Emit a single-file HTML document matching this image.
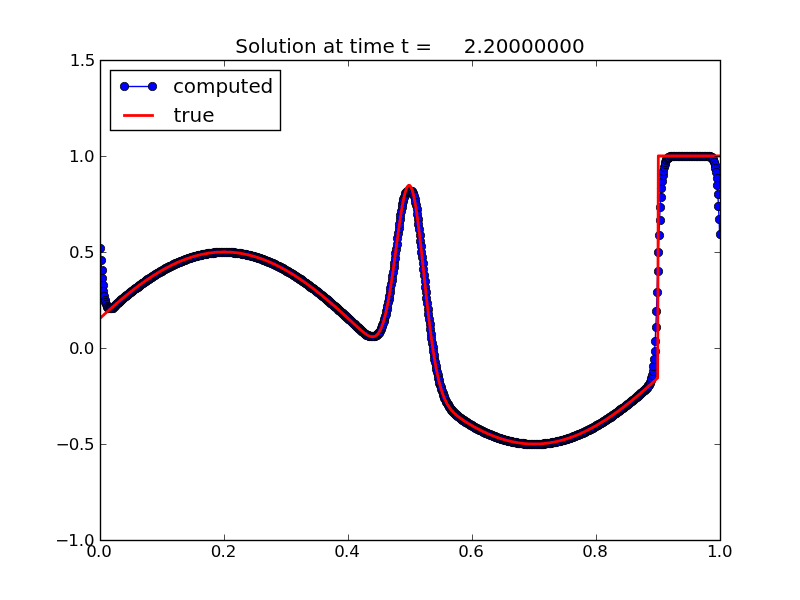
<!DOCTYPE html>
<html><head><meta charset="utf-8"><title>Solution at time t = 2.20000000</title>
<style>html,body{margin:0;padding:0;background:#fff;overflow:hidden}svg{display:block;will-change:transform}</style></head>
<body>
<svg width="800" height="600" viewBox="0 0 800 600">
<rect x="0" y="0" width="800" height="600" fill="#fff"/>
<defs><clipPath id="ax"><rect x="100" y="60" width="620" height="480"/></clipPath></defs>
<g clip-path="url(#ax)">
<path d="M100.31 247.81 L100.93 259.61 L101.55 269.76 L102.17 278.34 L102.79 285.46 L103.41 291.26 L104.03 295.89 L104.65 299.53 L105.27 302.31 L105.89 304.39 L106.51 305.90 L107.13 306.95 L107.75 307.65 L108.37 308.08 L108.99 308.31 L109.61 308.42 L110.23 308.45 L110.85 308.43 L111.47 308.35 L112.09 308.12 L112.71 307.72 L113.33 307.13 L113.95 306.38 L114.57 305.62 L115.19 304.95 L115.81 304.32 L116.43 303.72 L117.05 303.15 L117.67 302.59 L118.29 302.04 L118.91 301.50 L119.53 300.97 L120.15 300.44 L120.77 299.92 L121.39 299.39 L122.01 298.87 L122.63 298.35 L123.25 297.84 L123.87 297.33 L124.49 296.81 L125.11 296.30 L125.73 295.80 L126.35 295.29 L126.97 294.79 L127.59 294.29 L128.21 293.79 L128.83 293.29 L129.45 292.80 L130.07 292.31 L130.69 291.82 L131.31 291.33 L131.93 290.84 L132.55 290.36 L133.17 289.88 L133.79 289.40 L134.41 288.92 L135.03 288.45 L135.65 287.98 L136.27 287.51 L136.89 287.04 L137.51 286.57 L138.13 286.11 L138.75 285.65 L139.37 285.19 L139.99 284.74 L140.61 284.29 L141.23 283.84 L141.85 283.39 L142.47 282.94 L143.09 282.50 L143.71 282.06 L144.33 281.63 L144.95 281.19 L145.57 280.76 L146.19 280.33 L146.81 279.90 L147.43 279.48 L148.05 279.06 L148.67 278.64 L149.29 278.22 L149.91 277.81 L150.53 277.40 L151.15 276.99 L151.77 276.59 L152.39 276.19 L153.01 275.79 L153.63 275.39 L154.25 275.00 L154.87 274.61 L155.49 274.22 L156.11 273.84 L156.73 273.46 L157.35 273.08 L157.97 272.70 L158.59 272.33 L159.21 271.96 L159.83 271.59 L160.45 271.23 L161.07 270.87 L161.69 270.51 L162.31 270.16 L162.93 269.81 L163.55 269.46 L164.17 269.11 L164.79 268.77 L165.41 268.43 L166.03 268.09 L166.65 267.76 L167.27 267.43 L167.89 267.11 L168.51 266.78 L169.13 266.46 L169.75 266.15 L170.37 265.83 L170.99 265.52 L171.61 265.21 L172.23 264.91 L172.85 264.61 L173.47 264.31 L174.09 264.02 L174.71 263.73 L175.33 263.44 L175.95 263.16 L176.57 262.88 L177.19 262.60 L177.81 262.33 L178.43 262.06 L179.05 261.79 L179.67 261.52 L180.29 261.26 L180.91 261.01 L181.53 260.75 L182.15 260.50 L182.77 260.26 L183.39 260.02 L184.01 259.78 L184.63 259.54 L185.25 259.31 L185.87 259.08 L186.49 258.85 L187.11 258.63 L187.73 258.41 L188.35 258.20 L188.97 257.99 L189.59 257.78 L190.21 257.57 L190.83 257.37 L191.45 257.18 L192.07 256.98 L192.69 256.79 L193.31 256.61 L193.93 256.42 L194.55 256.24 L195.17 256.07 L195.79 255.90 L196.41 255.73 L197.03 255.56 L197.65 255.40 L198.27 255.25 L198.89 255.09 L199.51 254.94 L200.13 254.80 L200.75 254.65 L201.37 254.51 L201.99 254.38 L202.61 254.25 L203.23 254.12 L203.85 253.99 L204.47 253.87 L205.09 253.76 L205.71 253.64 L206.33 253.54 L206.95 253.43 L207.57 253.33 L208.19 253.23 L208.81 253.14 L209.43 253.05 L210.05 252.96 L210.67 252.88 L211.29 252.80 L211.91 252.72 L212.53 252.64 L213.15 252.57 L213.77 252.51 L214.39 252.44 L215.01 252.39 L215.63 252.33 L216.25 252.28 L216.87 252.24 L217.49 252.20 L218.11 252.17 L218.73 252.14 L219.35 252.12 L219.97 252.10 L220.59 252.09 L221.21 252.07 L221.83 252.07 L222.45 252.06 L223.07 252.06 L223.69 252.06 L224.31 252.06 L224.93 252.06 L225.55 252.06 L226.17 252.06 L226.79 252.06 L227.41 252.07 L228.03 252.09 L228.65 252.11 L229.27 252.13 L229.89 252.16 L230.51 252.19 L231.13 252.24 L231.75 252.28 L232.37 252.33 L232.99 252.39 L233.61 252.45 L234.23 252.52 L234.85 252.58 L235.47 252.65 L236.09 252.73 L236.71 252.80 L237.33 252.88 L237.95 252.96 L238.57 253.04 L239.19 253.13 L239.81 253.23 L240.43 253.32 L241.05 253.43 L241.67 253.53 L242.29 253.64 L242.91 253.76 L243.53 253.88 L244.15 254.00 L244.77 254.12 L245.39 254.25 L246.01 254.38 L246.63 254.51 L247.25 254.65 L247.87 254.79 L248.49 254.94 L249.11 255.09 L249.73 255.25 L250.35 255.40 L250.97 255.56 L251.59 255.73 L252.21 255.90 L252.83 256.07 L253.45 256.24 L254.07 256.42 L254.69 256.60 L255.31 256.79 L255.93 256.98 L256.55 257.18 L257.17 257.37 L257.79 257.57 L258.41 257.78 L259.03 257.99 L259.65 258.20 L260.27 258.41 L260.89 258.63 L261.51 258.85 L262.13 259.08 L262.75 259.31 L263.37 259.54 L263.99 259.78 L264.61 260.02 L265.23 260.26 L265.85 260.50 L266.47 260.75 L267.09 261.01 L267.71 261.27 L268.33 261.53 L268.95 261.79 L269.57 262.06 L270.19 262.33 L270.81 262.60 L271.43 262.88 L272.05 263.16 L272.67 263.44 L273.29 263.73 L273.91 264.02 L274.53 264.31 L275.15 264.61 L275.77 264.91 L276.39 265.22 L277.01 265.52 L277.63 265.83 L278.25 266.15 L278.87 266.46 L279.49 266.78 L280.11 267.11 L280.73 267.43 L281.35 267.76 L281.97 268.09 L282.59 268.43 L283.21 268.77 L283.83 269.11 L284.45 269.46 L285.07 269.81 L285.69 270.16 L286.31 270.51 L286.93 270.87 L287.55 271.23 L288.17 271.59 L288.79 271.96 L289.41 272.33 L290.03 272.70 L290.65 273.08 L291.27 273.46 L291.89 273.84 L292.51 274.22 L293.13 274.61 L293.75 275.00 L294.37 275.39 L294.99 275.79 L295.61 276.19 L296.23 276.59 L296.85 276.99 L297.47 277.40 L298.09 277.81 L298.71 278.23 L299.33 278.64 L299.95 279.06 L300.57 279.48 L301.19 279.90 L301.81 280.33 L302.43 280.76 L303.05 281.19 L303.67 281.63 L304.29 282.06 L304.91 282.50 L305.53 282.95 L306.15 283.39 L306.77 283.84 L307.39 284.29 L308.01 284.74 L308.63 285.19 L309.25 285.65 L309.87 286.11 L310.49 286.57 L311.11 287.04 L311.73 287.51 L312.35 287.98 L312.97 288.45 L313.59 288.92 L314.21 289.40 L314.83 289.88 L315.45 290.36 L316.07 290.84 L316.69 291.33 L317.31 291.82 L317.93 292.31 L318.55 292.80 L319.17 293.29 L319.79 293.79 L320.41 294.29 L321.03 294.79 L321.65 295.29 L322.27 295.80 L322.89 296.31 L323.51 296.81 L324.13 297.33 L324.75 297.84 L325.37 298.35 L325.99 298.87 L326.61 299.39 L327.23 299.91 L327.85 300.44 L328.47 300.96 L329.09 301.49 L329.71 302.02 L330.33 302.55 L330.95 303.08 L331.57 303.61 L332.19 304.15 L332.81 304.68 L333.43 305.22 L334.05 305.76 L334.67 306.31 L335.29 306.85 L335.91 307.40 L336.53 307.94 L337.15 308.49 L337.77 309.04 L338.39 309.60 L339.01 310.15 L339.63 310.70 L340.25 311.26 L340.87 311.82 L341.49 312.38 L342.11 312.94 L342.73 313.50 L343.35 314.06 L343.97 314.63 L344.59 315.19 L345.21 315.76 L345.83 316.33 L346.45 316.90 L347.07 317.47 L347.69 318.04 L348.31 318.61 L348.93 319.18 L349.55 319.76 L350.17 320.33 L350.79 320.91 L351.41 321.49 L352.03 322.08 L352.65 322.66 L353.27 323.23 L353.89 323.81 L354.51 324.38 L355.13 324.95 L355.75 325.51 L356.37 326.07 L356.99 326.64 L357.61 327.20 L358.23 327.76 L358.85 328.33 L359.47 328.90 L360.09 329.47 L360.71 330.05 L361.33 330.64 L361.95 331.24 L362.57 331.82 L363.19 332.39 L363.81 332.92 L364.43 333.41 L365.05 333.87 L365.67 334.28 L366.29 334.64 L366.91 334.95 L367.53 335.20 L368.15 335.41 L368.77 335.57 L369.39 335.68 L370.01 335.76 L370.63 335.81 L371.25 335.83 L371.87 335.84 L372.49 335.84 L373.11 335.82 L373.73 335.78 L374.35 335.70 L374.97 335.55 L375.59 335.34 L376.21 335.03 L376.83 334.62 L377.45 334.09 L378.07 333.43 L378.69 332.63 L379.31 331.68 L379.93 330.58 L380.55 329.33 L381.17 327.92 L381.79 326.36 L382.41 324.64 L383.03 322.78 L383.65 320.77 L384.27 318.62 L384.89 316.32 L385.51 313.87 L386.13 311.27 L386.75 308.50 L387.37 305.57 L387.99 302.46 L388.61 299.17 L389.23 295.71 L389.85 292.08 L390.47 288.29 L391.09 284.35 L391.71 280.27 L392.33 276.07 L392.95 271.75 L393.57 267.33 L394.19 262.80 L394.81 258.16 L395.43 253.41 L396.05 248.53 L396.67 243.50 L397.29 238.36 L397.91 233.31 L398.53 228.40 L399.15 223.67 L399.77 219.16 L400.39 214.91 L401.01 210.97 L401.63 207.35 L402.25 204.10 L402.87 201.22 L403.49 198.73 L404.11 196.62 L404.73 194.88 L405.35 193.50 L405.97 192.43 L406.59 191.65 L407.21 191.11 L407.83 190.78 L408.45 190.61 L409.07 190.54 L409.69 190.53 L410.31 190.58 L410.93 190.76 L411.55 191.16 L412.17 191.85 L412.79 192.91 L413.41 194.40 L414.03 196.38 L414.65 198.87 L415.27 201.89 L415.89 205.43 L416.51 209.47 L417.13 213.95 L417.75 218.80 L418.37 223.97 L418.99 229.35 L419.61 234.89 L420.23 240.50 L420.85 246.15 L421.47 251.81 L422.09 257.48 L422.71 263.18 L423.33 268.93 L423.95 274.78 L424.57 280.70 L425.19 286.54 L425.81 292.30 L426.43 297.95 L427.05 303.48 L427.67 308.90 L428.29 314.18 L428.91 319.33 L429.53 324.34 L430.15 329.21 L430.77 333.91 L431.39 338.47 L432.01 342.85 L432.63 347.08 L433.25 351.14 L433.87 355.03 L434.49 358.75 L435.11 362.30 L435.73 365.69 L436.35 368.91 L436.97 371.97 L437.59 374.88 L438.21 377.63 L438.83 380.23 L439.45 382.69 L440.07 385.01 L440.69 387.19 L441.31 389.25 L441.93 391.19 L442.55 393.01 L443.17 394.72 L443.79 396.33 L444.41 397.84 L445.03 399.26 L445.65 400.60 L446.27 401.85 L446.89 403.04 L447.51 404.15 L448.13 405.19 L448.75 406.18 L449.37 407.11 L449.99 408.00 L450.61 408.83 L451.23 409.62 L451.85 410.38 L452.47 411.09 L453.09 411.78 L453.71 412.43 L454.33 413.06 L454.95 413.66 L455.57 414.25 L456.19 414.81 L456.81 415.35 L457.43 415.87 L458.05 416.38 L458.67 416.88 L459.29 417.36 L459.91 417.83 L460.53 418.29 L461.15 418.74 L461.77 419.19 L462.39 419.62 L463.01 420.05 L463.63 420.47 L464.25 420.88 L464.87 421.29 L465.49 421.69 L466.11 422.09 L466.73 422.48 L467.35 422.87 L467.97 423.26 L468.59 423.64 L469.21 424.01 L469.83 424.38 L470.45 424.75 L471.07 425.11 L471.69 425.47 L472.31 425.83 L472.93 426.19 L473.55 426.54 L474.17 426.88 L474.79 427.23 L475.41 427.57 L476.03 427.90 L476.65 428.24 L477.27 428.57 L477.89 428.89 L478.51 429.22 L479.13 429.54 L479.75 429.85 L480.37 430.17 L480.99 430.48 L481.61 430.78 L482.23 431.09 L482.85 431.39 L483.47 431.69 L484.09 431.98 L484.71 432.27 L485.33 432.56 L485.95 432.84 L486.57 433.12 L487.19 433.40 L487.81 433.67 L488.43 433.94 L489.05 434.21 L489.67 434.47 L490.29 434.74 L490.91 434.99 L491.53 435.25 L492.15 435.50 L492.77 435.74 L493.39 435.98 L494.01 436.22 L494.63 436.46 L495.25 436.69 L495.87 436.92 L496.49 437.15 L497.11 437.37 L497.73 437.59 L498.35 437.80 L498.97 438.01 L499.59 438.22 L500.21 438.43 L500.83 438.63 L501.45 438.82 L502.07 439.02 L502.69 439.21 L503.31 439.39 L503.93 439.58 L504.55 439.76 L505.17 439.93 L505.79 440.10 L506.41 440.27 L507.03 440.44 L507.65 440.60 L508.27 440.75 L508.89 440.91 L509.51 441.06 L510.13 441.20 L510.75 441.35 L511.37 441.49 L511.99 441.62 L512.61 441.75 L513.23 441.88 L513.85 442.01 L514.47 442.13 L515.09 442.24 L515.71 442.36 L516.33 442.46 L516.95 442.57 L517.57 442.67 L518.19 442.77 L518.81 442.86 L519.43 442.95 L520.05 443.04 L520.67 443.12 L521.29 443.20 L521.91 443.28 L522.53 443.36 L523.15 443.43 L523.77 443.49 L524.39 443.56 L525.01 443.61 L525.63 443.67 L526.25 443.72 L526.87 443.76 L527.49 443.80 L528.11 443.83 L528.73 443.86 L529.35 443.88 L529.97 443.90 L530.59 443.91 L531.21 443.93 L531.83 443.93 L532.45 443.94 L533.07 443.94 L533.69 443.94 L534.31 443.94 L534.93 443.94 L535.55 443.94 L536.17 443.94 L536.79 443.94 L537.41 443.93 L538.03 443.91 L538.65 443.89 L539.27 443.87 L539.89 443.84 L540.51 443.81 L541.13 443.76 L541.75 443.72 L542.37 443.67 L542.99 443.61 L543.61 443.55 L544.23 443.48 L544.85 443.42 L545.47 443.35 L546.09 443.27 L546.71 443.20 L547.33 443.12 L547.95 443.04 L548.57 442.96 L549.19 442.87 L549.81 442.77 L550.43 442.68 L551.05 442.57 L551.67 442.47 L552.29 442.36 L552.91 442.24 L553.53 442.12 L554.15 442.00 L554.77 441.88 L555.39 441.75 L556.01 441.62 L556.63 441.49 L557.25 441.35 L557.87 441.21 L558.49 441.06 L559.11 440.91 L559.73 440.75 L560.35 440.60 L560.97 440.44 L561.59 440.27 L562.21 440.10 L562.83 439.93 L563.45 439.76 L564.07 439.58 L564.69 439.40 L565.31 439.21 L565.93 439.02 L566.55 438.82 L567.17 438.63 L567.79 438.43 L568.41 438.22 L569.03 438.01 L569.65 437.80 L570.27 437.59 L570.89 437.37 L571.51 437.15 L572.13 436.92 L572.75 436.69 L573.37 436.46 L573.99 436.22 L574.61 435.98 L575.23 435.74 L575.85 435.50 L576.47 435.25 L577.09 434.99 L577.71 434.73 L578.33 434.47 L578.95 434.21 L579.57 433.94 L580.19 433.67 L580.81 433.40 L581.43 433.12 L582.05 432.84 L582.67 432.56 L583.29 432.27 L583.91 431.98 L584.53 431.69 L585.15 431.39 L585.77 431.09 L586.39 430.78 L587.01 430.48 L587.63 430.17 L588.25 429.85 L588.87 429.54 L589.49 429.22 L590.11 428.89 L590.73 428.57 L591.35 428.24 L591.97 427.91 L592.59 427.57 L593.21 427.23 L593.83 426.89 L594.45 426.54 L595.07 426.19 L595.69 425.84 L596.31 425.49 L596.93 425.13 L597.55 424.77 L598.17 424.41 L598.79 424.04 L599.41 423.67 L600.03 423.30 L600.65 422.92 L601.27 422.54 L601.89 422.16 L602.51 421.78 L603.13 421.39 L603.75 421.00 L604.37 420.61 L604.99 420.21 L605.61 419.81 L606.23 419.41 L606.85 419.01 L607.47 418.60 L608.09 418.19 L608.71 417.77 L609.33 417.36 L609.95 416.94 L610.57 416.52 L611.19 416.10 L611.81 415.67 L612.43 415.24 L613.05 414.81 L613.67 414.37 L614.29 413.94 L614.91 413.50 L615.53 413.05 L616.15 412.61 L616.77 412.16 L617.39 411.71 L618.01 411.26 L618.63 410.81 L619.25 410.35 L619.87 409.89 L620.49 409.43 L621.11 408.96 L621.73 408.49 L622.35 408.02 L622.97 407.55 L623.59 407.08 L624.21 406.60 L624.83 406.12 L625.45 405.64 L626.07 405.16 L626.69 404.67 L627.31 404.18 L627.93 403.69 L628.55 403.20 L629.17 402.71 L629.79 402.21 L630.41 401.71 L631.03 401.21 L631.65 400.71 L632.27 400.20 L632.89 399.69 L633.51 399.19 L634.13 398.67 L634.75 398.16 L635.37 397.65 L635.99 397.13 L636.61 396.61 L637.23 396.09 L637.85 395.56 L638.47 395.04 L639.09 394.51 L639.71 393.98 L640.33 393.45 L640.95 392.92 L641.57 392.38 L642.19 391.84 L642.81 391.30 L643.43 390.75 L644.05 390.19 L644.67 389.62 L645.29 389.04 L645.91 388.44 L646.53 387.80 L647.15 387.11 L647.77 386.35 L648.39 385.50 L649.01 384.50 L649.63 383.31 L650.25 381.85 L650.87 380.01 L651.49 377.66 L652.11 374.65 L652.73 370.75 L653.35 365.72 L653.97 359.24 L654.59 350.98 L655.21 340.54 L655.83 327.49 L656.45 311.43 L657.07 292.05 L657.69 270.77 L658.31 251.54 L658.93 234.58 L659.55 219.87 L660.17 207.32 L660.79 196.77 L661.41 188.02 L662.03 180.88 L662.65 175.11 L663.27 170.53 L663.89 166.93 L664.51 164.13 L665.13 161.99 L665.75 160.37 L666.37 159.15 L666.99 158.25 L667.61 157.59 L668.23 157.12 L668.85 156.77 L669.47 156.53 L670.09 156.36 L670.71 156.24 L671.33 156.16 L671.95 156.11 L672.57 156.07 L673.19 156.05 L673.81 156.03 L674.43 156.02 L675.05 156.01 L675.67 156.01 L676.29 156.00 L676.91 156.00 L677.53 156.00 L678.15 156.00 L678.77 156.00 L679.39 156.00 L680.01 156.00 L680.63 156.00 L681.25 156.00 L681.87 156.00 L682.49 156.00 L683.11 156.00 L683.73 156.00 L684.35 156.00 L684.97 156.00 L685.59 156.00 L686.21 156.00 L686.83 156.00 L687.45 156.00 L688.07 156.00 L688.69 156.00 L689.31 156.00 L689.93 156.00 L690.55 156.00 L691.17 156.00 L691.79 156.00 L692.41 156.00 L693.03 156.00 L693.65 156.00 L694.27 156.00 L694.89 156.00 L695.51 156.00 L696.13 156.00 L696.75 156.00 L697.37 156.00 L697.99 156.00 L698.61 156.00 L699.23 156.00 L699.85 156.00 L700.47 156.00 L701.09 156.00 L701.71 156.00 L702.33 156.00 L702.95 156.00 L703.57 156.00 L704.19 156.01 L704.81 156.01 L705.43 156.02 L706.05 156.03 L706.67 156.05 L707.29 156.08 L707.91 156.12 L708.53 156.19 L709.15 156.29 L709.77 156.44 L710.39 156.66 L711.01 156.98 L711.63 157.45 L712.25 158.12 L712.87 159.05 L713.49 160.36 L714.11 162.16 L714.73 164.60 L715.35 167.88 L715.97 172.20 L716.59 177.84 L717.21 185.08 L717.83 194.21 L718.45 205.56 L719.07 219.34 L719.69 234.35" fill="none" stroke="#0000ff" stroke-width="1.389" stroke-linejoin="round"/>
<g fill="#0000ff" stroke="#000" stroke-width="0.900"><circle cx="100.5" cy="248.5" r="4.064"/><circle cx="101.5" cy="260.5" r="4.064"/><circle cx="102.5" cy="270.5" r="4.064"/><circle cx="102.5" cy="278.5" r="4.064"/><circle cx="103.5" cy="285.5" r="4.064"/><circle cx="103.5" cy="291.5" r="4.064"/><circle cx="104.5" cy="296.5" r="4.064"/><circle cx="105.5" cy="300.5" r="4.064"/><circle cx="105.5" cy="302.5" r="4.064"/><circle cx="106.5" cy="304.5" r="4.064"/><circle cx="107.5" cy="306.5" r="4.064"/><circle cx="107.5" cy="307.5" r="4.064"/><circle cx="108.5" cy="308.5" r="4.064"/><circle cx="108.5" cy="308.5" r="4.064"/><circle cx="109.5" cy="308.5" r="4.064"/><circle cx="110.5" cy="308.5" r="4.064"/><circle cx="110.5" cy="308.5" r="4.064"/><circle cx="111.5" cy="308.5" r="4.064"/><circle cx="111.5" cy="308.5" r="4.064"/><circle cx="112.5" cy="308.5" r="4.064"/><circle cx="113.5" cy="308.5" r="4.064"/><circle cx="113.5" cy="307.5" r="4.064"/><circle cx="114.5" cy="306.5" r="4.064"/><circle cx="115.5" cy="306.5" r="4.064"/><circle cx="115.5" cy="305.5" r="4.064"/><circle cx="116.5" cy="304.5" r="4.064"/><circle cx="116.5" cy="304.5" r="4.064"/><circle cx="117.5" cy="303.5" r="4.064"/><circle cx="118.5" cy="303.5" r="4.064"/><circle cx="118.5" cy="302.5" r="4.064"/><circle cx="119.5" cy="302.5" r="4.064"/><circle cx="120.5" cy="301.5" r="4.064"/><circle cx="120.5" cy="300.5" r="4.064"/><circle cx="121.5" cy="300.5" r="4.064"/><circle cx="121.5" cy="299.5" r="4.064"/><circle cx="122.5" cy="299.5" r="4.064"/><circle cx="123.5" cy="298.5" r="4.064"/><circle cx="123.5" cy="298.5" r="4.064"/><circle cx="124.5" cy="297.5" r="4.064"/><circle cx="124.5" cy="297.5" r="4.064"/><circle cx="125.5" cy="296.5" r="4.064"/><circle cx="126.5" cy="296.5" r="4.064"/><circle cx="126.5" cy="295.5" r="4.064"/><circle cx="127.5" cy="295.5" r="4.064"/><circle cx="128.5" cy="294.5" r="4.064"/><circle cx="128.5" cy="294.5" r="4.064"/><circle cx="129.5" cy="293.5" r="4.064"/><circle cx="129.5" cy="293.5" r="4.064"/><circle cx="130.5" cy="292.5" r="4.064"/><circle cx="131.5" cy="292.5" r="4.064"/><circle cx="131.5" cy="291.5" r="4.064"/><circle cx="132.5" cy="291.5" r="4.064"/><circle cx="133.5" cy="290.5" r="4.064"/><circle cx="133.5" cy="290.5" r="4.064"/><circle cx="134.5" cy="289.5" r="4.064"/><circle cx="134.5" cy="289.5" r="4.064"/><circle cx="135.5" cy="288.5" r="4.064"/><circle cx="136.5" cy="288.5" r="4.064"/><circle cx="136.5" cy="288.5" r="4.064"/><circle cx="137.5" cy="287.5" r="4.064"/><circle cx="138.5" cy="287.5" r="4.064"/><circle cx="138.5" cy="286.5" r="4.064"/><circle cx="139.5" cy="286.5" r="4.064"/><circle cx="139.5" cy="285.5" r="4.064"/><circle cx="140.5" cy="285.5" r="4.064"/><circle cx="141.5" cy="284.5" r="4.064"/><circle cx="141.5" cy="284.5" r="4.064"/><circle cx="142.5" cy="283.5" r="4.064"/><circle cx="142.5" cy="283.5" r="4.064"/><circle cx="143.5" cy="283.5" r="4.064"/><circle cx="144.5" cy="282.5" r="4.064"/><circle cx="144.5" cy="282.5" r="4.064"/><circle cx="145.5" cy="281.5" r="4.064"/><circle cx="146.5" cy="281.5" r="4.064"/><circle cx="146.5" cy="280.5" r="4.064"/><circle cx="147.5" cy="280.5" r="4.064"/><circle cx="147.5" cy="279.5" r="4.064"/><circle cx="148.5" cy="279.5" r="4.064"/><circle cx="149.5" cy="279.5" r="4.064"/><circle cx="149.5" cy="278.5" r="4.064"/><circle cx="150.5" cy="278.5" r="4.064"/><circle cx="151.5" cy="277.5" r="4.064"/><circle cx="151.5" cy="277.5" r="4.064"/><circle cx="152.5" cy="277.5" r="4.064"/><circle cx="152.5" cy="276.5" r="4.064"/><circle cx="153.5" cy="276.5" r="4.064"/><circle cx="154.5" cy="275.5" r="4.064"/><circle cx="154.5" cy="275.5" r="4.064"/><circle cx="155.5" cy="275.5" r="4.064"/><circle cx="155.5" cy="274.5" r="4.064"/><circle cx="156.5" cy="274.5" r="4.064"/><circle cx="157.5" cy="273.5" r="4.064"/><circle cx="157.5" cy="273.5" r="4.064"/><circle cx="158.5" cy="273.5" r="4.064"/><circle cx="159.5" cy="272.5" r="4.064"/><circle cx="159.5" cy="272.5" r="4.064"/><circle cx="160.5" cy="272.5" r="4.064"/><circle cx="160.5" cy="271.5" r="4.064"/><circle cx="161.5" cy="271.5" r="4.064"/><circle cx="162.5" cy="271.5" r="4.064"/><circle cx="162.5" cy="270.5" r="4.064"/><circle cx="163.5" cy="270.5" r="4.064"/><circle cx="164.5" cy="269.5" r="4.064"/><circle cx="164.5" cy="269.5" r="4.064"/><circle cx="165.5" cy="269.5" r="4.064"/><circle cx="165.5" cy="268.5" r="4.064"/><circle cx="166.5" cy="268.5" r="4.064"/><circle cx="167.5" cy="268.5" r="4.064"/><circle cx="167.5" cy="267.5" r="4.064"/><circle cx="168.5" cy="267.5" r="4.064"/><circle cx="169.5" cy="267.5" r="4.064"/><circle cx="169.5" cy="266.5" r="4.064"/><circle cx="170.5" cy="266.5" r="4.064"/><circle cx="170.5" cy="266.5" r="4.064"/><circle cx="171.5" cy="266.5" r="4.064"/><circle cx="172.5" cy="265.5" r="4.064"/><circle cx="172.5" cy="265.5" r="4.064"/><circle cx="173.5" cy="265.5" r="4.064"/><circle cx="173.5" cy="264.5" r="4.064"/><circle cx="174.5" cy="264.5" r="4.064"/><circle cx="175.5" cy="264.5" r="4.064"/><circle cx="175.5" cy="263.5" r="4.064"/><circle cx="176.5" cy="263.5" r="4.064"/><circle cx="177.5" cy="263.5" r="4.064"/><circle cx="177.5" cy="263.5" r="4.064"/><circle cx="178.5" cy="262.5" r="4.064"/><circle cx="178.5" cy="262.5" r="4.064"/><circle cx="179.5" cy="262.5" r="4.064"/><circle cx="180.5" cy="262.5" r="4.064"/><circle cx="180.5" cy="261.5" r="4.064"/><circle cx="181.5" cy="261.5" r="4.064"/><circle cx="182.5" cy="261.5" r="4.064"/><circle cx="182.5" cy="261.5" r="4.064"/><circle cx="183.5" cy="260.5" r="4.064"/><circle cx="183.5" cy="260.5" r="4.064"/><circle cx="184.5" cy="260.5" r="4.064"/><circle cx="185.5" cy="260.5" r="4.064"/><circle cx="185.5" cy="259.5" r="4.064"/><circle cx="186.5" cy="259.5" r="4.064"/><circle cx="186.5" cy="259.5" r="4.064"/><circle cx="187.5" cy="259.5" r="4.064"/><circle cx="188.5" cy="258.5" r="4.064"/><circle cx="188.5" cy="258.5" r="4.064"/><circle cx="189.5" cy="258.5" r="4.064"/><circle cx="190.5" cy="258.5" r="4.064"/><circle cx="190.5" cy="258.5" r="4.064"/><circle cx="191.5" cy="257.5" r="4.064"/><circle cx="191.5" cy="257.5" r="4.064"/><circle cx="192.5" cy="257.5" r="4.064"/><circle cx="193.5" cy="257.5" r="4.064"/><circle cx="193.5" cy="257.5" r="4.064"/><circle cx="194.5" cy="256.5" r="4.064"/><circle cx="195.5" cy="256.5" r="4.064"/><circle cx="195.5" cy="256.5" r="4.064"/><circle cx="196.5" cy="256.5" r="4.064"/><circle cx="196.5" cy="256.5" r="4.064"/><circle cx="197.5" cy="256.5" r="4.064"/><circle cx="198.5" cy="255.5" r="4.064"/><circle cx="198.5" cy="255.5" r="4.064"/><circle cx="199.5" cy="255.5" r="4.064"/><circle cx="200.5" cy="255.5" r="4.064"/><circle cx="200.5" cy="255.5" r="4.064"/><circle cx="201.5" cy="255.5" r="4.064"/><circle cx="201.5" cy="255.5" r="4.064"/><circle cx="202.5" cy="254.5" r="4.064"/><circle cx="203.5" cy="254.5" r="4.064"/><circle cx="203.5" cy="254.5" r="4.064"/><circle cx="204.5" cy="254.5" r="4.064"/><circle cx="204.5" cy="254.5" r="4.064"/><circle cx="205.5" cy="254.5" r="4.064"/><circle cx="206.5" cy="254.5" r="4.064"/><circle cx="206.5" cy="254.5" r="4.064"/><circle cx="207.5" cy="253.5" r="4.064"/><circle cx="208.5" cy="253.5" r="4.064"/><circle cx="208.5" cy="253.5" r="4.064"/><circle cx="209.5" cy="253.5" r="4.064"/><circle cx="209.5" cy="253.5" r="4.064"/><circle cx="210.5" cy="253.5" r="4.064"/><circle cx="211.5" cy="253.5" r="4.064"/><circle cx="211.5" cy="253.5" r="4.064"/><circle cx="212.5" cy="253.5" r="4.064"/><circle cx="213.5" cy="253.5" r="4.064"/><circle cx="213.5" cy="253.5" r="4.064"/><circle cx="214.5" cy="253.5" r="4.064"/><circle cx="214.5" cy="252.5" r="4.064"/><circle cx="215.5" cy="252.5" r="4.064"/><circle cx="216.5" cy="252.5" r="4.064"/><circle cx="216.5" cy="252.5" r="4.064"/><circle cx="217.5" cy="252.5" r="4.064"/><circle cx="217.5" cy="252.5" r="4.064"/><circle cx="218.5" cy="252.5" r="4.064"/><circle cx="219.5" cy="252.5" r="4.064"/><circle cx="219.5" cy="252.5" r="4.064"/><circle cx="220.5" cy="252.5" r="4.064"/><circle cx="221.5" cy="252.5" r="4.064"/><circle cx="221.5" cy="252.5" r="4.064"/><circle cx="222.5" cy="252.5" r="4.064"/><circle cx="222.5" cy="252.5" r="4.064"/><circle cx="223.5" cy="252.5" r="4.064"/><circle cx="224.5" cy="252.5" r="4.064"/><circle cx="224.5" cy="252.5" r="4.064"/><circle cx="225.5" cy="252.5" r="4.064"/><circle cx="226.5" cy="252.5" r="4.064"/><circle cx="226.5" cy="252.5" r="4.064"/><circle cx="227.5" cy="252.5" r="4.064"/><circle cx="227.5" cy="252.5" r="4.064"/><circle cx="228.5" cy="252.5" r="4.064"/><circle cx="229.5" cy="252.5" r="4.064"/><circle cx="229.5" cy="252.5" r="4.064"/><circle cx="230.5" cy="252.5" r="4.064"/><circle cx="231.5" cy="252.5" r="4.064"/><circle cx="231.5" cy="252.5" r="4.064"/><circle cx="232.5" cy="252.5" r="4.064"/><circle cx="232.5" cy="252.5" r="4.064"/><circle cx="233.5" cy="252.5" r="4.064"/><circle cx="234.5" cy="252.5" r="4.064"/><circle cx="234.5" cy="253.5" r="4.064"/><circle cx="235.5" cy="253.5" r="4.064"/><circle cx="235.5" cy="253.5" r="4.064"/><circle cx="236.5" cy="253.5" r="4.064"/><circle cx="237.5" cy="253.5" r="4.064"/><circle cx="237.5" cy="253.5" r="4.064"/><circle cx="238.5" cy="253.5" r="4.064"/><circle cx="239.5" cy="253.5" r="4.064"/><circle cx="239.5" cy="253.5" r="4.064"/><circle cx="240.5" cy="253.5" r="4.064"/><circle cx="240.5" cy="253.5" r="4.064"/><circle cx="241.5" cy="253.5" r="4.064"/><circle cx="242.5" cy="254.5" r="4.064"/><circle cx="242.5" cy="254.5" r="4.064"/><circle cx="243.5" cy="254.5" r="4.064"/><circle cx="244.5" cy="254.5" r="4.064"/><circle cx="244.5" cy="254.5" r="4.064"/><circle cx="245.5" cy="254.5" r="4.064"/><circle cx="245.5" cy="254.5" r="4.064"/><circle cx="246.5" cy="254.5" r="4.064"/><circle cx="247.5" cy="255.5" r="4.064"/><circle cx="247.5" cy="255.5" r="4.064"/><circle cx="248.5" cy="255.5" r="4.064"/><circle cx="248.5" cy="255.5" r="4.064"/><circle cx="249.5" cy="255.5" r="4.064"/><circle cx="250.5" cy="255.5" r="4.064"/><circle cx="250.5" cy="255.5" r="4.064"/><circle cx="251.5" cy="256.5" r="4.064"/><circle cx="252.5" cy="256.5" r="4.064"/><circle cx="252.5" cy="256.5" r="4.064"/><circle cx="253.5" cy="256.5" r="4.064"/><circle cx="253.5" cy="256.5" r="4.064"/><circle cx="254.5" cy="256.5" r="4.064"/><circle cx="255.5" cy="257.5" r="4.064"/><circle cx="255.5" cy="257.5" r="4.064"/><circle cx="256.5" cy="257.5" r="4.064"/><circle cx="257.5" cy="257.5" r="4.064"/><circle cx="257.5" cy="257.5" r="4.064"/><circle cx="258.5" cy="258.5" r="4.064"/><circle cx="258.5" cy="258.5" r="4.064"/><circle cx="259.5" cy="258.5" r="4.064"/><circle cx="260.5" cy="258.5" r="4.064"/><circle cx="260.5" cy="258.5" r="4.064"/><circle cx="261.5" cy="259.5" r="4.064"/><circle cx="262.5" cy="259.5" r="4.064"/><circle cx="262.5" cy="259.5" r="4.064"/><circle cx="263.5" cy="259.5" r="4.064"/><circle cx="263.5" cy="260.5" r="4.064"/><circle cx="264.5" cy="260.5" r="4.064"/><circle cx="265.5" cy="260.5" r="4.064"/><circle cx="265.5" cy="260.5" r="4.064"/><circle cx="266.5" cy="261.5" r="4.064"/><circle cx="266.5" cy="261.5" r="4.064"/><circle cx="267.5" cy="261.5" r="4.064"/><circle cx="268.5" cy="261.5" r="4.064"/><circle cx="268.5" cy="262.5" r="4.064"/><circle cx="269.5" cy="262.5" r="4.064"/><circle cx="270.5" cy="262.5" r="4.064"/><circle cx="270.5" cy="262.5" r="4.064"/><circle cx="271.5" cy="263.5" r="4.064"/><circle cx="271.5" cy="263.5" r="4.064"/><circle cx="272.5" cy="263.5" r="4.064"/><circle cx="273.5" cy="263.5" r="4.064"/><circle cx="273.5" cy="264.5" r="4.064"/><circle cx="274.5" cy="264.5" r="4.064"/><circle cx="275.5" cy="264.5" r="4.064"/><circle cx="275.5" cy="265.5" r="4.064"/><circle cx="276.5" cy="265.5" r="4.064"/><circle cx="276.5" cy="265.5" r="4.064"/><circle cx="277.5" cy="266.5" r="4.064"/><circle cx="278.5" cy="266.5" r="4.064"/><circle cx="278.5" cy="266.5" r="4.064"/><circle cx="279.5" cy="266.5" r="4.064"/><circle cx="279.5" cy="267.5" r="4.064"/><circle cx="280.5" cy="267.5" r="4.064"/><circle cx="281.5" cy="267.5" r="4.064"/><circle cx="281.5" cy="268.5" r="4.064"/><circle cx="282.5" cy="268.5" r="4.064"/><circle cx="283.5" cy="268.5" r="4.064"/><circle cx="283.5" cy="269.5" r="4.064"/><circle cx="284.5" cy="269.5" r="4.064"/><circle cx="284.5" cy="269.5" r="4.064"/><circle cx="285.5" cy="270.5" r="4.064"/><circle cx="286.5" cy="270.5" r="4.064"/><circle cx="286.5" cy="271.5" r="4.064"/><circle cx="287.5" cy="271.5" r="4.064"/><circle cx="288.5" cy="271.5" r="4.064"/><circle cx="288.5" cy="272.5" r="4.064"/><circle cx="289.5" cy="272.5" r="4.064"/><circle cx="289.5" cy="272.5" r="4.064"/><circle cx="290.5" cy="273.5" r="4.064"/><circle cx="291.5" cy="273.5" r="4.064"/><circle cx="291.5" cy="273.5" r="4.064"/><circle cx="292.5" cy="274.5" r="4.064"/><circle cx="293.5" cy="274.5" r="4.064"/><circle cx="293.5" cy="275.5" r="4.064"/><circle cx="294.5" cy="275.5" r="4.064"/><circle cx="294.5" cy="275.5" r="4.064"/><circle cx="295.5" cy="276.5" r="4.064"/><circle cx="296.5" cy="276.5" r="4.064"/><circle cx="296.5" cy="277.5" r="4.064"/><circle cx="297.5" cy="277.5" r="4.064"/><circle cx="297.5" cy="277.5" r="4.064"/><circle cx="298.5" cy="278.5" r="4.064"/><circle cx="299.5" cy="278.5" r="4.064"/><circle cx="299.5" cy="279.5" r="4.064"/><circle cx="300.5" cy="279.5" r="4.064"/><circle cx="301.5" cy="279.5" r="4.064"/><circle cx="301.5" cy="280.5" r="4.064"/><circle cx="302.5" cy="280.5" r="4.064"/><circle cx="302.5" cy="281.5" r="4.064"/><circle cx="303.5" cy="281.5" r="4.064"/><circle cx="304.5" cy="282.5" r="4.064"/><circle cx="304.5" cy="282.5" r="4.064"/><circle cx="305.5" cy="283.5" r="4.064"/><circle cx="306.5" cy="283.5" r="4.064"/><circle cx="306.5" cy="283.5" r="4.064"/><circle cx="307.5" cy="284.5" r="4.064"/><circle cx="307.5" cy="284.5" r="4.064"/><circle cx="308.5" cy="285.5" r="4.064"/><circle cx="309.5" cy="285.5" r="4.064"/><circle cx="309.5" cy="286.5" r="4.064"/><circle cx="310.5" cy="286.5" r="4.064"/><circle cx="310.5" cy="287.5" r="4.064"/><circle cx="311.5" cy="287.5" r="4.064"/><circle cx="312.5" cy="288.5" r="4.064"/><circle cx="312.5" cy="288.5" r="4.064"/><circle cx="313.5" cy="288.5" r="4.064"/><circle cx="314.5" cy="289.5" r="4.064"/><circle cx="314.5" cy="289.5" r="4.064"/><circle cx="315.5" cy="290.5" r="4.064"/><circle cx="315.5" cy="290.5" r="4.064"/><circle cx="316.5" cy="291.5" r="4.064"/><circle cx="317.5" cy="291.5" r="4.064"/><circle cx="317.5" cy="292.5" r="4.064"/><circle cx="318.5" cy="292.5" r="4.064"/><circle cx="319.5" cy="293.5" r="4.064"/><circle cx="319.5" cy="293.5" r="4.064"/><circle cx="320.5" cy="294.5" r="4.064"/><circle cx="320.5" cy="294.5" r="4.064"/><circle cx="321.5" cy="295.5" r="4.064"/><circle cx="322.5" cy="295.5" r="4.064"/><circle cx="322.5" cy="296.5" r="4.064"/><circle cx="323.5" cy="296.5" r="4.064"/><circle cx="324.5" cy="297.5" r="4.064"/><circle cx="324.5" cy="297.5" r="4.064"/><circle cx="325.5" cy="298.5" r="4.064"/><circle cx="325.5" cy="298.5" r="4.064"/><circle cx="326.5" cy="299.5" r="4.064"/><circle cx="327.5" cy="299.5" r="4.064"/><circle cx="327.5" cy="300.5" r="4.064"/><circle cx="328.5" cy="300.5" r="4.064"/><circle cx="328.5" cy="301.5" r="4.064"/><circle cx="329.5" cy="301.5" r="4.064"/><circle cx="330.5" cy="302.5" r="4.064"/><circle cx="330.5" cy="303.5" r="4.064"/><circle cx="331.5" cy="303.5" r="4.064"/><circle cx="332.5" cy="304.5" r="4.064"/><circle cx="332.5" cy="304.5" r="4.064"/><circle cx="333.5" cy="305.5" r="4.064"/><circle cx="333.5" cy="305.5" r="4.064"/><circle cx="334.5" cy="306.5" r="4.064"/><circle cx="335.5" cy="306.5" r="4.064"/><circle cx="335.5" cy="307.5" r="4.064"/><circle cx="336.5" cy="307.5" r="4.064"/><circle cx="337.5" cy="308.5" r="4.064"/><circle cx="337.5" cy="308.5" r="4.064"/><circle cx="338.5" cy="309.5" r="4.064"/><circle cx="338.5" cy="310.5" r="4.064"/><circle cx="339.5" cy="310.5" r="4.064"/><circle cx="340.5" cy="311.5" r="4.064"/><circle cx="340.5" cy="311.5" r="4.064"/><circle cx="341.5" cy="312.5" r="4.064"/><circle cx="341.5" cy="312.5" r="4.064"/><circle cx="342.5" cy="313.5" r="4.064"/><circle cx="343.5" cy="313.5" r="4.064"/><circle cx="343.5" cy="314.5" r="4.064"/><circle cx="344.5" cy="315.5" r="4.064"/><circle cx="345.5" cy="315.5" r="4.064"/><circle cx="345.5" cy="316.5" r="4.064"/><circle cx="346.5" cy="316.5" r="4.064"/><circle cx="346.5" cy="317.5" r="4.064"/><circle cx="347.5" cy="317.5" r="4.064"/><circle cx="348.5" cy="318.5" r="4.064"/><circle cx="348.5" cy="319.5" r="4.064"/><circle cx="349.5" cy="319.5" r="4.064"/><circle cx="350.5" cy="320.5" r="4.064"/><circle cx="350.5" cy="320.5" r="4.064"/><circle cx="351.5" cy="321.5" r="4.064"/><circle cx="351.5" cy="321.5" r="4.064"/><circle cx="352.5" cy="322.5" r="4.064"/><circle cx="353.5" cy="323.5" r="4.064"/><circle cx="353.5" cy="323.5" r="4.064"/><circle cx="354.5" cy="324.5" r="4.064"/><circle cx="355.5" cy="324.5" r="4.064"/><circle cx="355.5" cy="325.5" r="4.064"/><circle cx="356.5" cy="326.5" r="4.064"/><circle cx="356.5" cy="326.5" r="4.064"/><circle cx="357.5" cy="327.5" r="4.064"/><circle cx="358.5" cy="327.5" r="4.064"/><circle cx="358.5" cy="328.5" r="4.064"/><circle cx="359.5" cy="328.5" r="4.064"/><circle cx="359.5" cy="329.5" r="4.064"/><circle cx="360.5" cy="329.5" r="4.064"/><circle cx="361.5" cy="330.5" r="4.064"/><circle cx="361.5" cy="331.5" r="4.064"/><circle cx="362.5" cy="331.5" r="4.064"/><circle cx="363.5" cy="332.5" r="4.064"/><circle cx="363.5" cy="332.5" r="4.064"/><circle cx="364.5" cy="333.5" r="4.064"/><circle cx="364.5" cy="333.5" r="4.064"/><circle cx="365.5" cy="334.5" r="4.064"/><circle cx="366.5" cy="334.5" r="4.064"/><circle cx="366.5" cy="335.5" r="4.064"/><circle cx="367.5" cy="335.5" r="4.064"/><circle cx="368.5" cy="335.5" r="4.064"/><circle cx="368.5" cy="335.5" r="4.064"/><circle cx="369.5" cy="336.5" r="4.064"/><circle cx="369.5" cy="336.5" r="4.064"/><circle cx="370.5" cy="336.5" r="4.064"/><circle cx="371.5" cy="336.5" r="4.064"/><circle cx="371.5" cy="336.5" r="4.064"/><circle cx="372.5" cy="336.5" r="4.064"/><circle cx="372.5" cy="336.5" r="4.064"/><circle cx="373.5" cy="336.5" r="4.064"/><circle cx="374.5" cy="336.5" r="4.064"/><circle cx="374.5" cy="336.5" r="4.064"/><circle cx="375.5" cy="336.5" r="4.064"/><circle cx="376.5" cy="335.5" r="4.064"/><circle cx="376.5" cy="335.5" r="4.064"/><circle cx="377.5" cy="335.5" r="4.064"/><circle cx="377.5" cy="334.5" r="4.064"/><circle cx="378.5" cy="333.5" r="4.064"/><circle cx="379.5" cy="333.5" r="4.064"/><circle cx="379.5" cy="332.5" r="4.064"/><circle cx="380.5" cy="331.5" r="4.064"/><circle cx="381.5" cy="329.5" r="4.064"/><circle cx="381.5" cy="328.5" r="4.064"/><circle cx="382.5" cy="326.5" r="4.064"/><circle cx="382.5" cy="325.5" r="4.064"/><circle cx="383.5" cy="323.5" r="4.064"/><circle cx="384.5" cy="321.5" r="4.064"/><circle cx="384.5" cy="319.5" r="4.064"/><circle cx="385.5" cy="316.5" r="4.064"/><circle cx="386.5" cy="314.5" r="4.064"/><circle cx="386.5" cy="311.5" r="4.064"/><circle cx="387.5" cy="309.5" r="4.064"/><circle cx="387.5" cy="306.5" r="4.064"/><circle cx="388.5" cy="302.5" r="4.064"/><circle cx="389.5" cy="299.5" r="4.064"/><circle cx="389.5" cy="296.5" r="4.064"/><circle cx="390.5" cy="292.5" r="4.064"/><circle cx="390.5" cy="288.5" r="4.064"/><circle cx="391.5" cy="284.5" r="4.064"/><circle cx="392.5" cy="280.5" r="4.064"/><circle cx="392.5" cy="276.5" r="4.064"/><circle cx="393.5" cy="272.5" r="4.064"/><circle cx="394.5" cy="267.5" r="4.064"/><circle cx="394.5" cy="263.5" r="4.064"/><circle cx="395.5" cy="258.5" r="4.064"/><circle cx="395.5" cy="253.5" r="4.064"/><circle cx="396.5" cy="249.5" r="4.064"/><circle cx="397.5" cy="244.5" r="4.064"/><circle cx="397.5" cy="238.5" r="4.064"/><circle cx="398.5" cy="233.5" r="4.064"/><circle cx="399.5" cy="228.5" r="4.064"/><circle cx="399.5" cy="224.5" r="4.064"/><circle cx="400.5" cy="219.5" r="4.064"/><circle cx="400.5" cy="215.5" r="4.064"/><circle cx="401.5" cy="211.5" r="4.064"/><circle cx="402.5" cy="207.5" r="4.064"/><circle cx="402.5" cy="204.5" r="4.064"/><circle cx="403.5" cy="201.5" r="4.064"/><circle cx="403.5" cy="199.5" r="4.064"/><circle cx="404.5" cy="197.5" r="4.064"/><circle cx="405.5" cy="195.5" r="4.064"/><circle cx="405.5" cy="193.5" r="4.064"/><circle cx="406.5" cy="192.5" r="4.064"/><circle cx="407.5" cy="192.5" r="4.064"/><circle cx="407.5" cy="191.5" r="4.064"/><circle cx="408.5" cy="191.5" r="4.064"/><circle cx="408.5" cy="191.5" r="4.064"/><circle cx="409.5" cy="191.5" r="4.064"/><circle cx="410.5" cy="191.5" r="4.064"/><circle cx="410.5" cy="191.5" r="4.064"/><circle cx="411.5" cy="191.5" r="4.064"/><circle cx="412.5" cy="191.5" r="4.064"/><circle cx="412.5" cy="192.5" r="4.064"/><circle cx="413.5" cy="193.5" r="4.064"/><circle cx="413.5" cy="194.5" r="4.064"/><circle cx="414.5" cy="196.5" r="4.064"/><circle cx="415.5" cy="199.5" r="4.064"/><circle cx="415.5" cy="202.5" r="4.064"/><circle cx="416.5" cy="205.5" r="4.064"/><circle cx="417.5" cy="209.5" r="4.064"/><circle cx="417.5" cy="214.5" r="4.064"/><circle cx="418.5" cy="219.5" r="4.064"/><circle cx="418.5" cy="224.5" r="4.064"/><circle cx="419.5" cy="229.5" r="4.064"/><circle cx="420.5" cy="235.5" r="4.064"/><circle cx="420.5" cy="241.5" r="4.064"/><circle cx="421.5" cy="246.5" r="4.064"/><circle cx="421.5" cy="252.5" r="4.064"/><circle cx="422.5" cy="257.5" r="4.064"/><circle cx="423.5" cy="263.5" r="4.064"/><circle cx="423.5" cy="269.5" r="4.064"/><circle cx="424.5" cy="275.5" r="4.064"/><circle cx="425.5" cy="281.5" r="4.064"/><circle cx="425.5" cy="287.5" r="4.064"/><circle cx="426.5" cy="292.5" r="4.064"/><circle cx="426.5" cy="298.5" r="4.064"/><circle cx="427.5" cy="303.5" r="4.064"/><circle cx="428.5" cy="309.5" r="4.064"/><circle cx="428.5" cy="314.5" r="4.064"/><circle cx="429.5" cy="319.5" r="4.064"/><circle cx="430.5" cy="324.5" r="4.064"/><circle cx="430.5" cy="329.5" r="4.064"/><circle cx="431.5" cy="334.5" r="4.064"/><circle cx="431.5" cy="338.5" r="4.064"/><circle cx="432.5" cy="343.5" r="4.064"/><circle cx="433.5" cy="347.5" r="4.064"/><circle cx="433.5" cy="351.5" r="4.064"/><circle cx="434.5" cy="355.5" r="4.064"/><circle cx="434.5" cy="359.5" r="4.064"/><circle cx="435.5" cy="362.5" r="4.064"/><circle cx="436.5" cy="366.5" r="4.064"/><circle cx="436.5" cy="369.5" r="4.064"/><circle cx="437.5" cy="372.5" r="4.064"/><circle cx="438.5" cy="375.5" r="4.064"/><circle cx="438.5" cy="378.5" r="4.064"/><circle cx="439.5" cy="380.5" r="4.064"/><circle cx="439.5" cy="383.5" r="4.064"/><circle cx="440.5" cy="385.5" r="4.064"/><circle cx="441.5" cy="387.5" r="4.064"/><circle cx="441.5" cy="389.5" r="4.064"/><circle cx="442.5" cy="391.5" r="4.064"/><circle cx="443.5" cy="393.5" r="4.064"/><circle cx="443.5" cy="395.5" r="4.064"/><circle cx="444.5" cy="396.5" r="4.064"/><circle cx="444.5" cy="398.5" r="4.064"/><circle cx="445.5" cy="399.5" r="4.064"/><circle cx="446.5" cy="401.5" r="4.064"/><circle cx="446.5" cy="402.5" r="4.064"/><circle cx="447.5" cy="403.5" r="4.064"/><circle cx="448.5" cy="404.5" r="4.064"/><circle cx="448.5" cy="405.5" r="4.064"/><circle cx="449.5" cy="406.5" r="4.064"/><circle cx="449.5" cy="407.5" r="4.064"/><circle cx="450.5" cy="408.5" r="4.064"/><circle cx="451.5" cy="409.5" r="4.064"/><circle cx="451.5" cy="410.5" r="4.064"/><circle cx="452.5" cy="410.5" r="4.064"/><circle cx="452.5" cy="411.5" r="4.064"/><circle cx="453.5" cy="412.5" r="4.064"/><circle cx="454.5" cy="412.5" r="4.064"/><circle cx="454.5" cy="413.5" r="4.064"/><circle cx="455.5" cy="414.5" r="4.064"/><circle cx="456.5" cy="414.5" r="4.064"/><circle cx="456.5" cy="415.5" r="4.064"/><circle cx="457.5" cy="415.5" r="4.064"/><circle cx="457.5" cy="416.5" r="4.064"/><circle cx="458.5" cy="416.5" r="4.064"/><circle cx="459.5" cy="417.5" r="4.064"/><circle cx="459.5" cy="417.5" r="4.064"/><circle cx="460.5" cy="418.5" r="4.064"/><circle cx="461.5" cy="418.5" r="4.064"/><circle cx="461.5" cy="419.5" r="4.064"/><circle cx="462.5" cy="419.5" r="4.064"/><circle cx="462.5" cy="420.5" r="4.064"/><circle cx="463.5" cy="420.5" r="4.064"/><circle cx="464.5" cy="420.5" r="4.064"/><circle cx="464.5" cy="421.5" r="4.064"/><circle cx="465.5" cy="421.5" r="4.064"/><circle cx="465.5" cy="422.5" r="4.064"/><circle cx="466.5" cy="422.5" r="4.064"/><circle cx="467.5" cy="422.5" r="4.064"/><circle cx="467.5" cy="423.5" r="4.064"/><circle cx="468.5" cy="423.5" r="4.064"/><circle cx="469.5" cy="424.5" r="4.064"/><circle cx="469.5" cy="424.5" r="4.064"/><circle cx="470.5" cy="424.5" r="4.064"/><circle cx="470.5" cy="425.5" r="4.064"/><circle cx="471.5" cy="425.5" r="4.064"/><circle cx="472.5" cy="425.5" r="4.064"/><circle cx="472.5" cy="426.5" r="4.064"/><circle cx="473.5" cy="426.5" r="4.064"/><circle cx="474.5" cy="427.5" r="4.064"/><circle cx="474.5" cy="427.5" r="4.064"/><circle cx="475.5" cy="427.5" r="4.064"/><circle cx="475.5" cy="428.5" r="4.064"/><circle cx="476.5" cy="428.5" r="4.064"/><circle cx="477.5" cy="428.5" r="4.064"/><circle cx="477.5" cy="429.5" r="4.064"/><circle cx="478.5" cy="429.5" r="4.064"/><circle cx="479.5" cy="429.5" r="4.064"/><circle cx="479.5" cy="430.5" r="4.064"/><circle cx="480.5" cy="430.5" r="4.064"/><circle cx="480.5" cy="430.5" r="4.064"/><circle cx="481.5" cy="430.5" r="4.064"/><circle cx="482.5" cy="431.5" r="4.064"/><circle cx="482.5" cy="431.5" r="4.064"/><circle cx="483.5" cy="431.5" r="4.064"/><circle cx="483.5" cy="432.5" r="4.064"/><circle cx="484.5" cy="432.5" r="4.064"/><circle cx="485.5" cy="432.5" r="4.064"/><circle cx="485.5" cy="433.5" r="4.064"/><circle cx="486.5" cy="433.5" r="4.064"/><circle cx="487.5" cy="433.5" r="4.064"/><circle cx="487.5" cy="433.5" r="4.064"/><circle cx="488.5" cy="434.5" r="4.064"/><circle cx="488.5" cy="434.5" r="4.064"/><circle cx="489.5" cy="434.5" r="4.064"/><circle cx="490.5" cy="434.5" r="4.064"/><circle cx="490.5" cy="435.5" r="4.064"/><circle cx="491.5" cy="435.5" r="4.064"/><circle cx="492.5" cy="435.5" r="4.064"/><circle cx="492.5" cy="435.5" r="4.064"/><circle cx="493.5" cy="436.5" r="4.064"/><circle cx="493.5" cy="436.5" r="4.064"/><circle cx="494.5" cy="436.5" r="4.064"/><circle cx="495.5" cy="436.5" r="4.064"/><circle cx="495.5" cy="437.5" r="4.064"/><circle cx="496.5" cy="437.5" r="4.064"/><circle cx="496.5" cy="437.5" r="4.064"/><circle cx="497.5" cy="437.5" r="4.064"/><circle cx="498.5" cy="438.5" r="4.064"/><circle cx="498.5" cy="438.5" r="4.064"/><circle cx="499.5" cy="438.5" r="4.064"/><circle cx="500.5" cy="438.5" r="4.064"/><circle cx="500.5" cy="438.5" r="4.064"/><circle cx="501.5" cy="439.5" r="4.064"/><circle cx="501.5" cy="439.5" r="4.064"/><circle cx="502.5" cy="439.5" r="4.064"/><circle cx="503.5" cy="439.5" r="4.064"/><circle cx="503.5" cy="439.5" r="4.064"/><circle cx="504.5" cy="440.5" r="4.064"/><circle cx="505.5" cy="440.5" r="4.064"/><circle cx="505.5" cy="440.5" r="4.064"/><circle cx="506.5" cy="440.5" r="4.064"/><circle cx="506.5" cy="440.5" r="4.064"/><circle cx="507.5" cy="440.5" r="4.064"/><circle cx="508.5" cy="441.5" r="4.064"/><circle cx="508.5" cy="441.5" r="4.064"/><circle cx="509.5" cy="441.5" r="4.064"/><circle cx="510.5" cy="441.5" r="4.064"/><circle cx="510.5" cy="441.5" r="4.064"/><circle cx="511.5" cy="441.5" r="4.064"/><circle cx="511.5" cy="441.5" r="4.064"/><circle cx="512.5" cy="442.5" r="4.064"/><circle cx="513.5" cy="442.5" r="4.064"/><circle cx="513.5" cy="442.5" r="4.064"/><circle cx="514.5" cy="442.5" r="4.064"/><circle cx="514.5" cy="442.5" r="4.064"/><circle cx="515.5" cy="442.5" r="4.064"/><circle cx="516.5" cy="442.5" r="4.064"/><circle cx="516.5" cy="442.5" r="4.064"/><circle cx="517.5" cy="443.5" r="4.064"/><circle cx="518.5" cy="443.5" r="4.064"/><circle cx="518.5" cy="443.5" r="4.064"/><circle cx="519.5" cy="443.5" r="4.064"/><circle cx="519.5" cy="443.5" r="4.064"/><circle cx="520.5" cy="443.5" r="4.064"/><circle cx="521.5" cy="443.5" r="4.064"/><circle cx="521.5" cy="443.5" r="4.064"/><circle cx="522.5" cy="443.5" r="4.064"/><circle cx="523.5" cy="443.5" r="4.064"/><circle cx="523.5" cy="443.5" r="4.064"/><circle cx="524.5" cy="443.5" r="4.064"/><circle cx="524.5" cy="444.5" r="4.064"/><circle cx="525.5" cy="444.5" r="4.064"/><circle cx="526.5" cy="444.5" r="4.064"/><circle cx="526.5" cy="444.5" r="4.064"/><circle cx="527.5" cy="444.5" r="4.064"/><circle cx="527.5" cy="444.5" r="4.064"/><circle cx="528.5" cy="444.5" r="4.064"/><circle cx="529.5" cy="444.5" r="4.064"/><circle cx="529.5" cy="444.5" r="4.064"/><circle cx="530.5" cy="444.5" r="4.064"/><circle cx="531.5" cy="444.5" r="4.064"/><circle cx="531.5" cy="444.5" r="4.064"/><circle cx="532.5" cy="444.5" r="4.064"/><circle cx="532.5" cy="444.5" r="4.064"/><circle cx="533.5" cy="444.5" r="4.064"/><circle cx="534.5" cy="444.5" r="4.064"/><circle cx="534.5" cy="444.5" r="4.064"/><circle cx="535.5" cy="444.5" r="4.064"/><circle cx="536.5" cy="444.5" r="4.064"/><circle cx="536.5" cy="444.5" r="4.064"/><circle cx="537.5" cy="444.5" r="4.064"/><circle cx="537.5" cy="444.5" r="4.064"/><circle cx="538.5" cy="444.5" r="4.064"/><circle cx="539.5" cy="444.5" r="4.064"/><circle cx="539.5" cy="444.5" r="4.064"/><circle cx="540.5" cy="444.5" r="4.064"/><circle cx="541.5" cy="444.5" r="4.064"/><circle cx="541.5" cy="444.5" r="4.064"/><circle cx="542.5" cy="444.5" r="4.064"/><circle cx="542.5" cy="444.5" r="4.064"/><circle cx="543.5" cy="444.5" r="4.064"/><circle cx="544.5" cy="444.5" r="4.064"/><circle cx="544.5" cy="443.5" r="4.064"/><circle cx="545.5" cy="443.5" r="4.064"/><circle cx="545.5" cy="443.5" r="4.064"/><circle cx="546.5" cy="443.5" r="4.064"/><circle cx="547.5" cy="443.5" r="4.064"/><circle cx="547.5" cy="443.5" r="4.064"/><circle cx="548.5" cy="443.5" r="4.064"/><circle cx="549.5" cy="443.5" r="4.064"/><circle cx="549.5" cy="443.5" r="4.064"/><circle cx="550.5" cy="443.5" r="4.064"/><circle cx="550.5" cy="443.5" r="4.064"/><circle cx="551.5" cy="443.5" r="4.064"/><circle cx="552.5" cy="442.5" r="4.064"/><circle cx="552.5" cy="442.5" r="4.064"/><circle cx="553.5" cy="442.5" r="4.064"/><circle cx="554.5" cy="442.5" r="4.064"/><circle cx="554.5" cy="442.5" r="4.064"/><circle cx="555.5" cy="442.5" r="4.064"/><circle cx="555.5" cy="442.5" r="4.064"/><circle cx="556.5" cy="442.5" r="4.064"/><circle cx="557.5" cy="441.5" r="4.064"/><circle cx="557.5" cy="441.5" r="4.064"/><circle cx="558.5" cy="441.5" r="4.064"/><circle cx="558.5" cy="441.5" r="4.064"/><circle cx="559.5" cy="441.5" r="4.064"/><circle cx="560.5" cy="441.5" r="4.064"/><circle cx="560.5" cy="441.5" r="4.064"/><circle cx="561.5" cy="440.5" r="4.064"/><circle cx="562.5" cy="440.5" r="4.064"/><circle cx="562.5" cy="440.5" r="4.064"/><circle cx="563.5" cy="440.5" r="4.064"/><circle cx="563.5" cy="440.5" r="4.064"/><circle cx="564.5" cy="440.5" r="4.064"/><circle cx="565.5" cy="439.5" r="4.064"/><circle cx="565.5" cy="439.5" r="4.064"/><circle cx="566.5" cy="439.5" r="4.064"/><circle cx="567.5" cy="439.5" r="4.064"/><circle cx="567.5" cy="439.5" r="4.064"/><circle cx="568.5" cy="438.5" r="4.064"/><circle cx="568.5" cy="438.5" r="4.064"/><circle cx="569.5" cy="438.5" r="4.064"/><circle cx="570.5" cy="438.5" r="4.064"/><circle cx="570.5" cy="438.5" r="4.064"/><circle cx="571.5" cy="437.5" r="4.064"/><circle cx="572.5" cy="437.5" r="4.064"/><circle cx="572.5" cy="437.5" r="4.064"/><circle cx="573.5" cy="437.5" r="4.064"/><circle cx="573.5" cy="436.5" r="4.064"/><circle cx="574.5" cy="436.5" r="4.064"/><circle cx="575.5" cy="436.5" r="4.064"/><circle cx="575.5" cy="436.5" r="4.064"/><circle cx="576.5" cy="435.5" r="4.064"/><circle cx="576.5" cy="435.5" r="4.064"/><circle cx="577.5" cy="435.5" r="4.064"/><circle cx="578.5" cy="435.5" r="4.064"/><circle cx="578.5" cy="434.5" r="4.064"/><circle cx="579.5" cy="434.5" r="4.064"/><circle cx="580.5" cy="434.5" r="4.064"/><circle cx="580.5" cy="434.5" r="4.064"/><circle cx="581.5" cy="433.5" r="4.064"/><circle cx="581.5" cy="433.5" r="4.064"/><circle cx="582.5" cy="433.5" r="4.064"/><circle cx="583.5" cy="433.5" r="4.064"/><circle cx="583.5" cy="432.5" r="4.064"/><circle cx="584.5" cy="432.5" r="4.064"/><circle cx="585.5" cy="432.5" r="4.064"/><circle cx="585.5" cy="431.5" r="4.064"/><circle cx="586.5" cy="431.5" r="4.064"/><circle cx="586.5" cy="431.5" r="4.064"/><circle cx="587.5" cy="430.5" r="4.064"/><circle cx="588.5" cy="430.5" r="4.064"/><circle cx="588.5" cy="430.5" r="4.064"/><circle cx="589.5" cy="430.5" r="4.064"/><circle cx="589.5" cy="429.5" r="4.064"/><circle cx="590.5" cy="429.5" r="4.064"/><circle cx="591.5" cy="429.5" r="4.064"/><circle cx="591.5" cy="428.5" r="4.064"/><circle cx="592.5" cy="428.5" r="4.064"/><circle cx="593.5" cy="428.5" r="4.064"/><circle cx="593.5" cy="427.5" r="4.064"/><circle cx="594.5" cy="427.5" r="4.064"/><circle cx="594.5" cy="427.5" r="4.064"/><circle cx="595.5" cy="426.5" r="4.064"/><circle cx="596.5" cy="426.5" r="4.064"/><circle cx="596.5" cy="425.5" r="4.064"/><circle cx="597.5" cy="425.5" r="4.064"/><circle cx="598.5" cy="425.5" r="4.064"/><circle cx="598.5" cy="424.5" r="4.064"/><circle cx="599.5" cy="424.5" r="4.064"/><circle cx="599.5" cy="424.5" r="4.064"/><circle cx="600.5" cy="423.5" r="4.064"/><circle cx="601.5" cy="423.5" r="4.064"/><circle cx="601.5" cy="423.5" r="4.064"/><circle cx="602.5" cy="422.5" r="4.064"/><circle cx="603.5" cy="422.5" r="4.064"/><circle cx="603.5" cy="421.5" r="4.064"/><circle cx="604.5" cy="421.5" r="4.064"/><circle cx="604.5" cy="421.5" r="4.064"/><circle cx="605.5" cy="420.5" r="4.064"/><circle cx="606.5" cy="420.5" r="4.064"/><circle cx="606.5" cy="419.5" r="4.064"/><circle cx="607.5" cy="419.5" r="4.064"/><circle cx="607.5" cy="419.5" r="4.064"/><circle cx="608.5" cy="418.5" r="4.064"/><circle cx="609.5" cy="418.5" r="4.064"/><circle cx="609.5" cy="417.5" r="4.064"/><circle cx="610.5" cy="417.5" r="4.064"/><circle cx="611.5" cy="417.5" r="4.064"/><circle cx="611.5" cy="416.5" r="4.064"/><circle cx="612.5" cy="416.5" r="4.064"/><circle cx="612.5" cy="415.5" r="4.064"/><circle cx="613.5" cy="415.5" r="4.064"/><circle cx="614.5" cy="414.5" r="4.064"/><circle cx="614.5" cy="414.5" r="4.064"/><circle cx="615.5" cy="413.5" r="4.064"/><circle cx="616.5" cy="413.5" r="4.064"/><circle cx="616.5" cy="413.5" r="4.064"/><circle cx="617.5" cy="412.5" r="4.064"/><circle cx="617.5" cy="412.5" r="4.064"/><circle cx="618.5" cy="411.5" r="4.064"/><circle cx="619.5" cy="411.5" r="4.064"/><circle cx="619.5" cy="410.5" r="4.064"/><circle cx="620.5" cy="410.5" r="4.064"/><circle cx="620.5" cy="409.5" r="4.064"/><circle cx="621.5" cy="409.5" r="4.064"/><circle cx="622.5" cy="408.5" r="4.064"/><circle cx="622.5" cy="408.5" r="4.064"/><circle cx="623.5" cy="408.5" r="4.064"/><circle cx="624.5" cy="407.5" r="4.064"/><circle cx="624.5" cy="407.5" r="4.064"/><circle cx="625.5" cy="406.5" r="4.064"/><circle cx="625.5" cy="406.5" r="4.064"/><circle cx="626.5" cy="405.5" r="4.064"/><circle cx="627.5" cy="405.5" r="4.064"/><circle cx="627.5" cy="404.5" r="4.064"/><circle cx="628.5" cy="404.5" r="4.064"/><circle cx="629.5" cy="403.5" r="4.064"/><circle cx="629.5" cy="403.5" r="4.064"/><circle cx="630.5" cy="402.5" r="4.064"/><circle cx="630.5" cy="402.5" r="4.064"/><circle cx="631.5" cy="401.5" r="4.064"/><circle cx="632.5" cy="401.5" r="4.064"/><circle cx="632.5" cy="400.5" r="4.064"/><circle cx="633.5" cy="400.5" r="4.064"/><circle cx="634.5" cy="399.5" r="4.064"/><circle cx="634.5" cy="399.5" r="4.064"/><circle cx="635.5" cy="398.5" r="4.064"/><circle cx="635.5" cy="398.5" r="4.064"/><circle cx="636.5" cy="397.5" r="4.064"/><circle cx="637.5" cy="397.5" r="4.064"/><circle cx="637.5" cy="396.5" r="4.064"/><circle cx="638.5" cy="396.5" r="4.064"/><circle cx="638.5" cy="395.5" r="4.064"/><circle cx="639.5" cy="395.5" r="4.064"/><circle cx="640.5" cy="394.5" r="4.064"/><circle cx="640.5" cy="393.5" r="4.064"/><circle cx="641.5" cy="393.5" r="4.064"/><circle cx="642.5" cy="392.5" r="4.064"/><circle cx="642.5" cy="392.5" r="4.064"/><circle cx="643.5" cy="391.5" r="4.064"/><circle cx="643.5" cy="391.5" r="4.064"/><circle cx="644.5" cy="390.5" r="4.064"/><circle cx="645.5" cy="390.5" r="4.064"/><circle cx="645.5" cy="389.5" r="4.064"/><circle cx="646.5" cy="388.5" r="4.064"/><circle cx="647.5" cy="388.5" r="4.064"/><circle cx="647.5" cy="387.5" r="4.064"/><circle cx="648.5" cy="386.5" r="4.064"/><circle cx="648.5" cy="385.5" r="4.064"/><circle cx="649.5" cy="385.5" r="4.064"/><circle cx="650.5" cy="383.5" r="4.064"/><circle cx="650.5" cy="382.5" r="4.064"/><circle cx="651.5" cy="380.5" r="4.064"/><circle cx="651.5" cy="378.5" r="4.064"/><circle cx="652.5" cy="375.5" r="4.064"/><circle cx="653.5" cy="371.5" r="4.064"/><circle cx="653.5" cy="366.5" r="4.064"/><circle cx="654.5" cy="359.5" r="4.064"/><circle cx="655.5" cy="351.5" r="4.064"/><circle cx="655.5" cy="341.5" r="4.064"/><circle cx="656.5" cy="327.5" r="4.064"/><circle cx="656.5" cy="311.5" r="4.064"/><circle cx="657.5" cy="292.5" r="4.064"/><circle cx="658.5" cy="271.5" r="4.064"/><circle cx="658.5" cy="252.5" r="4.064"/><circle cx="659.5" cy="235.5" r="4.064"/><circle cx="660.5" cy="220.5" r="4.064"/><circle cx="660.5" cy="207.5" r="4.064"/><circle cx="661.5" cy="197.5" r="4.064"/><circle cx="661.5" cy="188.5" r="4.064"/><circle cx="662.5" cy="181.5" r="4.064"/><circle cx="663.5" cy="175.5" r="4.064"/><circle cx="663.5" cy="171.5" r="4.064"/><circle cx="664.5" cy="167.5" r="4.064"/><circle cx="665.5" cy="164.5" r="4.064"/><circle cx="665.5" cy="162.5" r="4.064"/><circle cx="666.5" cy="160.5" r="4.064"/><circle cx="666.5" cy="159.5" r="4.064"/><circle cx="667.5" cy="158.5" r="4.064"/><circle cx="668.5" cy="158.5" r="4.064"/><circle cx="668.5" cy="157.5" r="4.064"/><circle cx="669.5" cy="157.5" r="4.064"/><circle cx="669.5" cy="157.5" r="4.064"/><circle cx="670.5" cy="156.5" r="4.064"/><circle cx="671.5" cy="156.5" r="4.064"/><circle cx="671.5" cy="156.5" r="4.064"/><circle cx="672.5" cy="156.5" r="4.064"/><circle cx="673.5" cy="156.5" r="4.064"/><circle cx="673.5" cy="156.5" r="4.064"/><circle cx="674.5" cy="156.5" r="4.064"/><circle cx="674.5" cy="156.5" r="4.064"/><circle cx="675.5" cy="156.5" r="4.064"/><circle cx="676.5" cy="156.5" r="4.064"/><circle cx="676.5" cy="156.5" r="4.064"/><circle cx="677.5" cy="156.5" r="4.064"/><circle cx="678.5" cy="156.5" r="4.064"/><circle cx="678.5" cy="156.5" r="4.064"/><circle cx="679.5" cy="156.5" r="4.064"/><circle cx="679.5" cy="156.5" r="4.064"/><circle cx="680.5" cy="156.5" r="4.064"/><circle cx="681.5" cy="156.5" r="4.064"/><circle cx="681.5" cy="156.5" r="4.064"/><circle cx="682.5" cy="156.5" r="4.064"/><circle cx="682.5" cy="156.5" r="4.064"/><circle cx="683.5" cy="156.5" r="4.064"/><circle cx="684.5" cy="156.5" r="4.064"/><circle cx="684.5" cy="156.5" r="4.064"/><circle cx="685.5" cy="156.5" r="4.064"/><circle cx="686.5" cy="156.5" r="4.064"/><circle cx="686.5" cy="156.5" r="4.064"/><circle cx="687.5" cy="156.5" r="4.064"/><circle cx="687.5" cy="156.5" r="4.064"/><circle cx="688.5" cy="156.5" r="4.064"/><circle cx="689.5" cy="156.5" r="4.064"/><circle cx="689.5" cy="156.5" r="4.064"/><circle cx="690.5" cy="156.5" r="4.064"/><circle cx="691.5" cy="156.5" r="4.064"/><circle cx="691.5" cy="156.5" r="4.064"/><circle cx="692.5" cy="156.5" r="4.064"/><circle cx="692.5" cy="156.5" r="4.064"/><circle cx="693.5" cy="156.5" r="4.064"/><circle cx="694.5" cy="156.5" r="4.064"/><circle cx="694.5" cy="156.5" r="4.064"/><circle cx="695.5" cy="156.5" r="4.064"/><circle cx="696.5" cy="156.5" r="4.064"/><circle cx="696.5" cy="156.5" r="4.064"/><circle cx="697.5" cy="156.5" r="4.064"/><circle cx="697.5" cy="156.5" r="4.064"/><circle cx="698.5" cy="156.5" r="4.064"/><circle cx="699.5" cy="156.5" r="4.064"/><circle cx="699.5" cy="156.5" r="4.064"/><circle cx="700.5" cy="156.5" r="4.064"/><circle cx="700.5" cy="156.5" r="4.064"/><circle cx="701.5" cy="156.5" r="4.064"/><circle cx="702.5" cy="156.5" r="4.064"/><circle cx="702.5" cy="156.5" r="4.064"/><circle cx="703.5" cy="156.5" r="4.064"/><circle cx="704.5" cy="156.5" r="4.064"/><circle cx="704.5" cy="156.5" r="4.064"/><circle cx="705.5" cy="156.5" r="4.064"/><circle cx="705.5" cy="156.5" r="4.064"/><circle cx="706.5" cy="156.5" r="4.064"/><circle cx="707.5" cy="156.5" r="4.064"/><circle cx="707.5" cy="156.5" r="4.064"/><circle cx="708.5" cy="156.5" r="4.064"/><circle cx="709.5" cy="156.5" r="4.064"/><circle cx="709.5" cy="156.5" r="4.064"/><circle cx="710.5" cy="156.5" r="4.064"/><circle cx="710.5" cy="157.5" r="4.064"/><circle cx="711.5" cy="157.5" r="4.064"/><circle cx="712.5" cy="157.5" r="4.064"/><circle cx="712.5" cy="158.5" r="4.064"/><circle cx="713.5" cy="159.5" r="4.064"/><circle cx="713.5" cy="160.5" r="4.064"/><circle cx="714.5" cy="162.5" r="4.064"/><circle cx="715.5" cy="165.5" r="4.064"/><circle cx="715.5" cy="168.5" r="4.064"/><circle cx="716.5" cy="172.5" r="4.064"/><circle cx="717.5" cy="178.5" r="4.064"/><circle cx="717.5" cy="185.5" r="4.064"/><circle cx="718.5" cy="194.5" r="4.064"/><circle cx="718.5" cy="206.5" r="4.064"/><circle cx="719.5" cy="219.5" r="4.064"/><circle cx="720.5" cy="234.5" r="4.064"/></g>
<path d="M100.31 318.05 L100.93 317.48 L101.55 316.90 L102.17 316.33 L102.79 315.77 L103.41 315.20 L104.03 314.63 L104.65 314.07 L105.27 313.50 L105.89 312.94 L106.51 312.38 L107.13 311.82 L107.75 311.26 L108.37 310.71 L108.99 310.15 L109.61 309.60 L110.23 309.05 L110.85 308.49 L111.47 307.95 L112.09 307.40 L112.71 306.85 L113.33 306.31 L113.95 305.77 L114.57 305.22 L115.19 304.69 L115.81 304.15 L116.43 303.61 L117.05 303.08 L117.67 302.55 L118.29 302.02 L118.91 301.49 L119.53 300.96 L120.15 300.44 L120.77 299.91 L121.39 299.39 L122.01 298.87 L122.63 298.36 L123.25 297.84 L123.87 297.33 L124.49 296.82 L125.11 296.31 L125.73 295.80 L126.35 295.29 L126.97 294.79 L127.59 294.29 L128.21 293.79 L128.83 293.29 L129.45 292.80 L130.07 292.31 L130.69 291.82 L131.31 291.33 L131.93 290.84 L132.55 290.36 L133.17 289.88 L133.79 289.40 L134.41 288.92 L135.03 288.45 L135.65 287.98 L136.27 287.51 L136.89 287.04 L137.51 286.58 L138.13 286.11 L138.75 285.65 L139.37 285.20 L139.99 284.74 L140.61 284.29 L141.23 283.84 L141.85 283.39 L142.47 282.95 L143.09 282.50 L143.71 282.06 L144.33 281.63 L144.95 281.19 L145.57 280.76 L146.19 280.33 L146.81 279.90 L147.43 279.48 L148.05 279.06 L148.67 278.64 L149.29 278.23 L149.91 277.81 L150.53 277.40 L151.15 277.00 L151.77 276.59 L152.39 276.19 L153.01 275.79 L153.63 275.39 L154.25 275.00 L154.87 274.61 L155.49 274.22 L156.11 273.84 L156.73 273.46 L157.35 273.08 L157.97 272.70 L158.59 272.33 L159.21 271.96 L159.83 271.59 L160.45 271.23 L161.07 270.87 L161.69 270.51 L162.31 270.16 L162.93 269.81 L163.55 269.46 L164.17 269.11 L164.79 268.77 L165.41 268.43 L166.03 268.10 L166.65 267.76 L167.27 267.43 L167.89 267.11 L168.51 266.78 L169.13 266.46 L169.75 266.15 L170.37 265.83 L170.99 265.52 L171.61 265.22 L172.23 264.91 L172.85 264.61 L173.47 264.31 L174.09 264.02 L174.71 263.73 L175.33 263.44 L175.95 263.16 L176.57 262.88 L177.19 262.60 L177.81 262.33 L178.43 262.06 L179.05 261.79 L179.67 261.53 L180.29 261.27 L180.91 261.01 L181.53 260.76 L182.15 260.51 L182.77 260.26 L183.39 260.02 L184.01 259.78 L184.63 259.54 L185.25 259.31 L185.87 259.08 L186.49 258.85 L187.11 258.63 L187.73 258.41 L188.35 258.20 L188.97 257.99 L189.59 257.78 L190.21 257.57 L190.83 257.37 L191.45 257.18 L192.07 256.98 L192.69 256.79 L193.31 256.61 L193.93 256.42 L194.55 256.24 L195.17 256.07 L195.79 255.90 L196.41 255.73 L197.03 255.56 L197.65 255.40 L198.27 255.25 L198.89 255.09 L199.51 254.94 L200.13 254.80 L200.75 254.65 L201.37 254.51 L201.99 254.38 L202.61 254.25 L203.23 254.12 L203.85 253.99 L204.47 253.87 L205.09 253.76 L205.71 253.64 L206.33 253.54 L206.95 253.43 L207.57 253.33 L208.19 253.23 L208.81 253.14 L209.43 253.04 L210.05 252.96 L210.67 252.87 L211.29 252.80 L211.91 252.72 L212.53 252.65 L213.15 252.58 L213.77 252.52 L214.39 252.45 L215.01 252.40 L215.63 252.35 L216.25 252.30 L216.87 252.25 L217.49 252.21 L218.11 252.17 L218.73 252.14 L219.35 252.11 L219.97 252.08 L220.59 252.06 L221.21 252.04 L221.83 252.02 L222.45 252.01 L223.07 252.00 L223.69 252.00 L224.31 252.00 L224.93 252.00 L225.55 252.01 L226.17 252.02 L226.79 252.04 L227.41 252.06 L228.03 252.08 L228.65 252.11 L229.27 252.14 L229.89 252.17 L230.51 252.21 L231.13 252.25 L231.75 252.30 L232.37 252.35 L232.99 252.40 L233.61 252.45 L234.23 252.52 L234.85 252.58 L235.47 252.65 L236.09 252.72 L236.71 252.80 L237.33 252.87 L237.95 252.96 L238.57 253.04 L239.19 253.14 L239.81 253.23 L240.43 253.33 L241.05 253.43 L241.67 253.54 L242.29 253.64 L242.91 253.76 L243.53 253.87 L244.15 253.99 L244.77 254.12 L245.39 254.25 L246.01 254.38 L246.63 254.51 L247.25 254.65 L247.87 254.80 L248.49 254.94 L249.11 255.09 L249.73 255.25 L250.35 255.40 L250.97 255.56 L251.59 255.73 L252.21 255.90 L252.83 256.07 L253.45 256.24 L254.07 256.42 L254.69 256.61 L255.31 256.79 L255.93 256.98 L256.55 257.18 L257.17 257.37 L257.79 257.57 L258.41 257.78 L259.03 257.99 L259.65 258.20 L260.27 258.41 L260.89 258.63 L261.51 258.85 L262.13 259.08 L262.75 259.31 L263.37 259.54 L263.99 259.78 L264.61 260.02 L265.23 260.26 L265.85 260.51 L266.47 260.76 L267.09 261.01 L267.71 261.27 L268.33 261.53 L268.95 261.79 L269.57 262.06 L270.19 262.33 L270.81 262.60 L271.43 262.88 L272.05 263.16 L272.67 263.44 L273.29 263.73 L273.91 264.02 L274.53 264.31 L275.15 264.61 L275.77 264.91 L276.39 265.22 L277.01 265.52 L277.63 265.83 L278.25 266.15 L278.87 266.46 L279.49 266.78 L280.11 267.11 L280.73 267.43 L281.35 267.76 L281.97 268.10 L282.59 268.43 L283.21 268.77 L283.83 269.11 L284.45 269.46 L285.07 269.81 L285.69 270.16 L286.31 270.51 L286.93 270.87 L287.55 271.23 L288.17 271.59 L288.79 271.96 L289.41 272.33 L290.03 272.70 L290.65 273.08 L291.27 273.46 L291.89 273.84 L292.51 274.22 L293.13 274.61 L293.75 275.00 L294.37 275.39 L294.99 275.79 L295.61 276.19 L296.23 276.59 L296.85 277.00 L297.47 277.40 L298.09 277.81 L298.71 278.23 L299.33 278.64 L299.95 279.06 L300.57 279.48 L301.19 279.90 L301.81 280.33 L302.43 280.76 L303.05 281.19 L303.67 281.63 L304.29 282.06 L304.91 282.50 L305.53 282.95 L306.15 283.39 L306.77 283.84 L307.39 284.29 L308.01 284.74 L308.63 285.20 L309.25 285.65 L309.87 286.11 L310.49 286.58 L311.11 287.04 L311.73 287.51 L312.35 287.98 L312.97 288.45 L313.59 288.92 L314.21 289.40 L314.83 289.88 L315.45 290.36 L316.07 290.84 L316.69 291.33 L317.31 291.82 L317.93 292.31 L318.55 292.80 L319.17 293.29 L319.79 293.79 L320.41 294.29 L321.03 294.79 L321.65 295.29 L322.27 295.80 L322.89 296.31 L323.51 296.82 L324.13 297.33 L324.75 297.84 L325.37 298.36 L325.99 298.87 L326.61 299.39 L327.23 299.91 L327.85 300.44 L328.47 300.96 L329.09 301.49 L329.71 302.02 L330.33 302.55 L330.95 303.08 L331.57 303.61 L332.19 304.15 L332.81 304.69 L333.43 305.22 L334.05 305.77 L334.67 306.31 L335.29 306.85 L335.91 307.40 L336.53 307.95 L337.15 308.49 L337.77 309.04 L338.39 309.60 L339.01 310.15 L339.63 310.71 L340.25 311.26 L340.87 311.82 L341.49 312.38 L342.11 312.94 L342.73 313.50 L343.35 314.06 L343.97 314.63 L344.59 315.19 L345.21 315.76 L345.83 316.33 L346.45 316.90 L347.07 317.47 L347.69 318.04 L348.31 318.61 L348.93 319.18 L349.55 319.76 L350.17 320.33 L350.79 320.91 L351.41 321.48 L352.03 322.06 L352.65 322.63 L353.27 323.21 L353.89 323.78 L354.51 324.35 L355.13 324.93 L355.75 325.50 L356.37 326.07 L356.99 326.64 L357.61 327.20 L358.23 327.76 L358.85 328.32 L359.47 328.87 L360.09 329.42 L360.71 329.96 L361.33 330.50 L361.95 331.02 L362.57 331.54 L363.19 332.04 L363.81 332.53 L364.43 333.01 L365.05 333.47 L365.67 333.91 L366.29 334.34 L366.91 334.73 L367.53 335.11 L368.15 335.45 L368.77 335.76 L369.39 336.03 L370.01 336.27 L370.63 336.46 L371.25 336.61 L371.87 336.70 L372.49 336.73 L373.11 336.70 L373.73 336.61 L374.35 336.44 L374.97 336.19 L375.59 335.86 L376.21 335.44 L376.83 334.92 L377.45 334.29 L378.07 333.56 L378.69 332.71 L379.31 331.74 L379.93 330.64 L380.55 329.40 L381.17 328.02 L381.79 326.49 L382.41 324.81 L383.03 322.98 L383.65 320.98 L384.27 318.82 L384.89 316.49 L385.51 313.99 L386.13 311.32 L386.75 308.48 L387.37 305.47 L387.99 302.29 L388.61 298.94 L389.23 295.43 L389.85 291.77 L390.47 287.95 L391.09 284.00 L391.71 279.91 L392.33 275.71 L392.95 271.40 L393.57 266.99 L394.19 262.51 L394.81 257.97 L395.43 253.39 L396.05 248.78 L396.67 244.17 L397.29 239.57 L397.91 235.02 L398.53 230.52 L399.15 226.12 L399.77 221.82 L400.39 217.65 L401.01 213.64 L401.63 209.81 L402.25 206.18 L402.87 202.78 L403.49 199.62 L404.11 196.74 L404.73 194.13 L405.35 191.83 L405.97 189.86 L406.59 188.21 L407.21 186.92 L407.83 185.99 L408.45 185.42 L409.07 185.24 L409.69 185.43 L410.31 186.00 L410.93 186.96 L411.55 188.29 L412.17 190.00 L412.79 192.08 L413.41 194.52 L414.03 197.31 L414.65 200.44 L415.27 203.88 L415.89 207.63 L416.51 211.66 L417.13 215.96 L417.75 220.51 L418.37 225.28 L418.99 230.26 L419.61 235.41 L420.23 240.72 L420.85 246.15 L421.47 251.70 L422.09 257.33 L422.71 263.03 L423.33 268.76 L423.95 274.51 L424.57 280.25 L425.19 285.97 L425.81 291.64 L426.43 297.26 L427.05 302.79 L427.67 308.23 L428.29 313.57 L428.91 318.78 L429.53 323.86 L430.15 328.79 L430.77 333.58 L431.39 338.21 L432.01 342.68 L432.63 346.98 L433.25 351.11 L433.87 355.06 L434.49 358.85 L435.11 362.46 L435.73 365.90 L436.35 369.17 L436.97 372.27 L437.59 375.21 L438.21 377.99 L438.83 380.61 L439.45 383.09 L440.07 385.42 L440.69 387.62 L441.31 389.68 L441.93 391.62 L442.55 393.44 L443.17 395.15 L443.79 396.75 L444.41 398.26 L445.03 399.66 L445.65 400.99 L446.27 402.23 L446.89 403.39 L447.51 404.49 L448.13 405.52 L448.75 406.48 L449.37 407.40 L449.99 408.26 L450.61 409.08 L451.23 409.86 L451.85 410.59 L452.47 411.29 L453.09 411.96 L453.71 412.60 L454.33 413.22 L454.95 413.81 L455.57 414.37 L456.19 414.92 L456.81 415.45 L457.43 415.97 L458.05 416.47 L458.67 416.95 L459.29 417.43 L459.91 417.89 L460.53 418.35 L461.15 418.79 L461.77 419.23 L462.39 419.66 L463.01 420.08 L463.63 420.50 L464.25 420.91 L464.87 421.31 L465.49 421.71 L466.11 422.11 L466.73 422.50 L467.35 422.88 L467.97 423.27 L468.59 423.64 L469.21 424.02 L469.83 424.39 L470.45 424.76 L471.07 425.12 L471.69 425.48 L472.31 425.83 L472.93 426.19 L473.55 426.54 L474.17 426.88 L474.79 427.23 L475.41 427.57 L476.03 427.90 L476.65 428.24 L477.27 428.57 L477.89 428.89 L478.51 429.22 L479.13 429.54 L479.75 429.85 L480.37 430.17 L480.99 430.48 L481.61 430.78 L482.23 431.09 L482.85 431.39 L483.47 431.69 L484.09 431.98 L484.71 432.27 L485.33 432.56 L485.95 432.84 L486.57 433.12 L487.19 433.40 L487.81 433.67 L488.43 433.94 L489.05 434.21 L489.67 434.47 L490.29 434.73 L490.91 434.99 L491.53 435.24 L492.15 435.49 L492.77 435.74 L493.39 435.98 L494.01 436.22 L494.63 436.46 L495.25 436.69 L495.87 436.92 L496.49 437.15 L497.11 437.37 L497.73 437.59 L498.35 437.80 L498.97 438.01 L499.59 438.22 L500.21 438.43 L500.83 438.63 L501.45 438.82 L502.07 439.02 L502.69 439.21 L503.31 439.39 L503.93 439.58 L504.55 439.76 L505.17 439.93 L505.79 440.10 L506.41 440.27 L507.03 440.44 L507.65 440.60 L508.27 440.75 L508.89 440.91 L509.51 441.06 L510.13 441.20 L510.75 441.35 L511.37 441.49 L511.99 441.62 L512.61 441.75 L513.23 441.88 L513.85 442.01 L514.47 442.13 L515.09 442.24 L515.71 442.36 L516.33 442.46 L516.95 442.57 L517.57 442.67 L518.19 442.77 L518.81 442.86 L519.43 442.96 L520.05 443.04 L520.67 443.13 L521.29 443.20 L521.91 443.28 L522.53 443.35 L523.15 443.42 L523.77 443.48 L524.39 443.55 L525.01 443.60 L525.63 443.65 L526.25 443.70 L526.87 443.75 L527.49 443.79 L528.11 443.83 L528.73 443.86 L529.35 443.89 L529.97 443.92 L530.59 443.94 L531.21 443.96 L531.83 443.98 L532.45 443.99 L533.07 444.00 L533.69 444.00 L534.31 444.00 L534.93 444.00 L535.55 443.99 L536.17 443.98 L536.79 443.96 L537.41 443.94 L538.03 443.92 L538.65 443.89 L539.27 443.86 L539.89 443.83 L540.51 443.79 L541.13 443.75 L541.75 443.70 L542.37 443.65 L542.99 443.60 L543.61 443.55 L544.23 443.48 L544.85 443.42 L545.47 443.35 L546.09 443.28 L546.71 443.20 L547.33 443.13 L547.95 443.04 L548.57 442.96 L549.19 442.86 L549.81 442.77 L550.43 442.67 L551.05 442.57 L551.67 442.46 L552.29 442.36 L552.91 442.24 L553.53 442.13 L554.15 442.01 L554.77 441.88 L555.39 441.75 L556.01 441.62 L556.63 441.49 L557.25 441.35 L557.87 441.20 L558.49 441.06 L559.11 440.91 L559.73 440.75 L560.35 440.60 L560.97 440.44 L561.59 440.27 L562.21 440.10 L562.83 439.93 L563.45 439.76 L564.07 439.58 L564.69 439.39 L565.31 439.21 L565.93 439.02 L566.55 438.82 L567.17 438.63 L567.79 438.43 L568.41 438.22 L569.03 438.01 L569.65 437.80 L570.27 437.59 L570.89 437.37 L571.51 437.15 L572.13 436.92 L572.75 436.69 L573.37 436.46 L573.99 436.22 L574.61 435.98 L575.23 435.74 L575.85 435.49 L576.47 435.24 L577.09 434.99 L577.71 434.73 L578.33 434.47 L578.95 434.21 L579.57 433.94 L580.19 433.67 L580.81 433.40 L581.43 433.12 L582.05 432.84 L582.67 432.56 L583.29 432.27 L583.91 431.98 L584.53 431.69 L585.15 431.39 L585.77 431.09 L586.39 430.78 L587.01 430.48 L587.63 430.17 L588.25 429.85 L588.87 429.54 L589.49 429.22 L590.11 428.89 L590.73 428.57 L591.35 428.24 L591.97 427.90 L592.59 427.57 L593.21 427.23 L593.83 426.89 L594.45 426.54 L595.07 426.19 L595.69 425.84 L596.31 425.49 L596.93 425.13 L597.55 424.77 L598.17 424.41 L598.79 424.04 L599.41 423.67 L600.03 423.30 L600.65 422.92 L601.27 422.54 L601.89 422.16 L602.51 421.78 L603.13 421.39 L603.75 421.00 L604.37 420.61 L604.99 420.21 L605.61 419.81 L606.23 419.41 L606.85 419.00 L607.47 418.60 L608.09 418.19 L608.71 417.77 L609.33 417.36 L609.95 416.94 L610.57 416.52 L611.19 416.10 L611.81 415.67 L612.43 415.24 L613.05 414.81 L613.67 414.37 L614.29 413.94 L614.91 413.50 L615.53 413.05 L616.15 412.61 L616.77 412.16 L617.39 411.71 L618.01 411.26 L618.63 410.80 L619.25 410.35 L619.87 409.89 L620.49 409.42 L621.11 408.96 L621.73 408.49 L622.35 408.02 L622.97 407.55 L623.59 407.08 L624.21 406.60 L624.83 406.12 L625.45 405.64 L626.07 405.16 L626.69 404.67 L627.31 404.18 L627.93 403.69 L628.55 403.20 L629.17 402.71 L629.79 402.21 L630.41 401.71 L631.03 401.21 L631.65 400.71 L632.27 400.20 L632.89 399.69 L633.51 399.18 L634.13 398.67 L634.75 398.16 L635.37 397.64 L635.99 397.13 L636.61 396.61 L637.23 396.09 L637.85 395.56 L638.47 395.04 L639.09 394.51 L639.71 393.98 L640.33 393.45 L640.95 392.92 L641.57 392.39 L642.19 391.85 L642.81 391.31 L643.43 390.78 L644.05 390.23 L644.67 389.69 L645.29 389.15 L645.91 388.60 L646.53 388.05 L647.15 387.51 L647.77 386.95 L648.39 386.40 L649.01 385.85 L649.63 385.29 L650.25 384.74 L650.87 384.18 L651.49 383.62 L652.11 383.06 L652.73 382.50 L653.35 381.93 L653.97 381.37 L654.59 380.80 L655.21 380.23 L655.83 379.67 L656.45 379.10 L657.07 378.52 L657.69 377.95 L658.31 156.00 L658.93 156.00 L659.55 156.00 L660.17 156.00 L660.79 156.00 L661.41 156.00 L662.03 156.00 L662.65 156.00 L663.27 156.00 L663.89 156.00 L664.51 156.00 L665.13 156.00 L665.75 156.00 L666.37 156.00 L666.99 156.00 L667.61 156.00 L668.23 156.00 L668.85 156.00 L669.47 156.00 L670.09 156.00 L670.71 156.00 L671.33 156.00 L671.95 156.00 L672.57 156.00 L673.19 156.00 L673.81 156.00 L674.43 156.00 L675.05 156.00 L675.67 156.00 L676.29 156.00 L676.91 156.00 L677.53 156.00 L678.15 156.00 L678.77 156.00 L679.39 156.00 L680.01 156.00 L680.63 156.00 L681.25 156.00 L681.87 156.00 L682.49 156.00 L683.11 156.00 L683.73 156.00 L684.35 156.00 L684.97 156.00 L685.59 156.00 L686.21 156.00 L686.83 156.00 L687.45 156.00 L688.07 156.00 L688.69 156.00 L689.31 156.00 L689.93 156.00 L690.55 156.00 L691.17 156.00 L691.79 156.00 L692.41 156.00 L693.03 156.00 L693.65 156.00 L694.27 156.00 L694.89 156.00 L695.51 156.00 L696.13 156.00 L696.75 156.00 L697.37 156.00 L697.99 156.00 L698.61 156.00 L699.23 156.00 L699.85 156.00 L700.47 156.00 L701.09 156.00 L701.71 156.00 L702.33 156.00 L702.95 156.00 L703.57 156.00 L704.19 156.00 L704.81 156.00 L705.43 156.00 L706.05 156.00 L706.67 156.00 L707.29 156.00 L707.91 156.00 L708.53 156.00 L709.15 156.00 L709.77 156.00 L710.39 156.00 L711.01 156.00 L711.63 156.00 L712.25 156.00 L712.87 156.00 L713.49 156.00 L714.11 156.00 L714.73 156.00 L715.35 156.00 L715.97 156.00 L716.59 156.00 L717.21 156.00 L717.83 156.00 L718.45 156.00 L719.07 156.00 L719.69 156.00" fill="none" stroke="#ff0000" stroke-width="2.778" stroke-linejoin="round" stroke-linecap="square"/>
</g>
<rect x="100.5" y="60.5" width="620" height="480" fill="none" stroke="#000" stroke-width="1.389"/>
<path d="M100.5 540.5V534.50M100.5 60.5V66.50M224.5 540.5V534.50M224.5 60.5V66.50M348.5 540.5V534.50M348.5 60.5V66.50M472.5 540.5V534.50M472.5 60.5V66.50M596.5 540.5V534.50M596.5 60.5V66.50M720.5 540.5V534.50M720.5 60.5V66.50M100.5 540.5H106.50M720.5 540.5H714.50M100.5 444.5H106.50M720.5 444.5H714.50M100.5 348.5H106.50M720.5 348.5H714.50M100.5 252.5H106.50M720.5 252.5H714.50M100.5 156.5H106.50M720.5 156.5H714.50M100.5 60.5H106.50M720.5 60.5H714.50" stroke="#000" stroke-width="0.694" fill="none"/>
<text x="86.15 95.95 101.15" y="557.02" style="font-family:'DejaVu Sans',sans-serif;font-size:16.667px">0.0</text>
<text x="210.80 220.60 225.80" y="557.02" style="font-family:'DejaVu Sans',sans-serif;font-size:16.667px">0.2</text>
<text x="334.15 343.95 349.15" y="557.02" style="font-family:'DejaVu Sans',sans-serif;font-size:16.667px">0.4</text>
<text x="458.15 467.95 473.15" y="557.02" style="font-family:'DejaVu Sans',sans-serif;font-size:16.667px">0.6</text>
<text x="582.15 591.95 597.15" y="557.02" style="font-family:'DejaVu Sans',sans-serif;font-size:16.667px">0.8</text>
<text x="706.90 716.70 721.90" y="557.02" style="font-family:'DejaVu Sans',sans-serif;font-size:16.667px">1.0</text>
<text x="55.15 68.15 78.80 84.00" y="545.60" style="font-family:'DejaVu Sans',sans-serif;font-size:16.667px">−1.0</text>
<text x="55.70 68.70 79.10 84.10" y="449.60" style="font-family:'DejaVu Sans',sans-serif;font-size:16.667px">−0.5</text>
<text x="69.00 78.30 83.80" y="353.60" style="font-family:'DejaVu Sans',sans-serif;font-size:16.667px">0.0</text>
<text x="69.00 78.80 84.00" y="257.60" style="font-family:'DejaVu Sans',sans-serif;font-size:16.667px">0.5</text>
<text x="69.00 78.80 84.00" y="161.60" style="font-family:'DejaVu Sans',sans-serif;font-size:16.667px">1.0</text>
<text x="69.85 79.65 84.85" y="65.60" style="font-family:'DejaVu Sans',sans-serif;font-size:16.667px">1.5</text>
<text x="410" y="53.06" text-anchor="middle" style="font-family:'DejaVu Sans',sans-serif;font-size:20px;white-space:pre">Solution at time t =     2.20000000</text>
<rect x="110.5" y="70.5" width="170" height="60" fill="#fff" stroke="#000" stroke-width="1.389"/>
<path d="M124.5 86.5H152.5" stroke="#0000ff" stroke-width="1.389" stroke-linecap="square"/>
<g fill="#0000ff" stroke="#000" stroke-width="0.900"><circle cx="124.5" cy="86.5" r="4.064"/><circle cx="152.5" cy="86.5" r="4.064"/></g>
<path d="M124.5 115.5H152.5" stroke="#ff0000" stroke-width="2.778" stroke-linecap="square"/>
<text x="172.95" y="93.00" style="font-family:'DejaVu Sans',sans-serif;font-size:20px;white-space:pre;letter-spacing:-0.08px">computed</text>
<text x="173.50" y="121.55" style="font-family:'DejaVu Sans',sans-serif;font-size:20px;white-space:pre">true</text>
</svg>
</body></html>
